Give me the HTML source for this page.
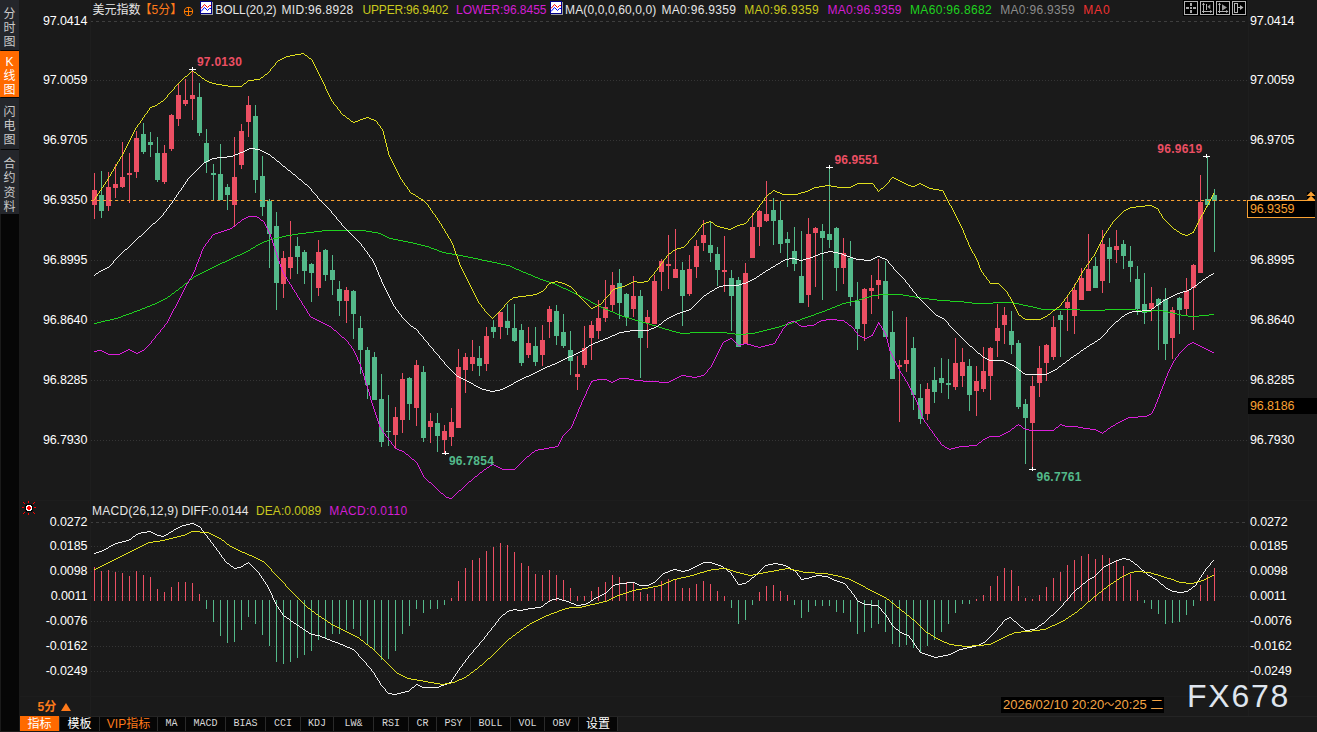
<!DOCTYPE html>
<html><head><meta charset="utf-8"><title>美元指数 5分</title>
<style>
html,body{margin:0;padding:0;background:#1a1a1a;}
body{width:1317px;height:732px;position:relative;overflow:hidden;font-family:"Liberation Sans","Noto Sans CJK SC",sans-serif;font-size:12px;color:#fff;}
.t{position:absolute;white-space:nowrap;line-height:14px;height:14px;}
.ax{position:absolute;white-space:nowrap;line-height:14px;height:14px;font-size:12.5px;letter-spacing:-0.12px;color:#fff;}
.l{left:30px;width:57.3px;text-align:right;}
.r{left:1250px;}
.b{font-weight:bold;}
svg{position:absolute;left:0;top:0;}
.side{position:absolute;left:1px;top:0;width:18px;height:731px;background:#060606;}
.tab{position:absolute;left:0;width:19px;background:#24262b;color:#c9c9c9;text-align:center;font-size:12px;line-height:14.3px;}
.bt{position:absolute;top:717px;height:14px;line-height:14px;background:#060606;color:#d8d8d8;text-align:center;font-family:"Liberation Mono","Noto Sans CJK SC",monospace;font-size:10px;white-space:nowrap;}
.bt.cj{font-family:"Liberation Sans","Noto Sans CJK SC",sans-serif;font-size:12px;color:#fff;}
</style></head><body>
<svg width="1317" height="732" viewBox="0 0 1317 732" shape-rendering="crispEdges"><path d="M90 21.5H1248" stroke="#3e3e3e" stroke-dasharray="3 3" fill="none"/>
<path d="M91 80.5H1248" stroke="#353535" stroke-dasharray="1 2" fill="none"/>
<path d="M91 140.5H1248" stroke="#353535" stroke-dasharray="1 2" fill="none"/>
<path d="M91 200.5H1248" stroke="#353535" stroke-dasharray="1 2" fill="none"/>
<path d="M91 260.5H1248" stroke="#353535" stroke-dasharray="1 2" fill="none"/>
<path d="M91 320.5H1248" stroke="#353535" stroke-dasharray="1 2" fill="none"/>
<path d="M91 380.5H1248" stroke="#353535" stroke-dasharray="1 2" fill="none"/>
<path d="M91 440.5H1248" stroke="#353535" stroke-dasharray="1 2" fill="none"/>
<path d="M90 522.5H1248" stroke="#3e3e3e" stroke-dasharray="3 3" fill="none"/>
<path d="M91 546.5H1248" stroke="#353535" stroke-dasharray="1 2" fill="none"/>
<path d="M91 571.5H1248" stroke="#353535" stroke-dasharray="1 2" fill="none"/>
<path d="M91 596.5H1248" stroke="#353535" stroke-dasharray="1 2" fill="none"/>
<path d="M91 621.5H1248" stroke="#353535" stroke-dasharray="1 2" fill="none"/>
<path d="M91 646.5H1248" stroke="#353535" stroke-dasharray="1 2" fill="none"/>
<path d="M91 671.5H1248" stroke="#353535" stroke-dasharray="1 2" fill="none"/>
<path d="M90.5 0V716 M1248.5 0V716" stroke="#1e1e1e" fill="none"/>
<path d="M20 500.5H1317 M20 696.5H1317" stroke="#1d1d1d" fill="none"/>
<path d="M20 716.5H1317" stroke="#242424" fill="none"/>
<rect x="94" y="173" width="1" height="46" fill="#ec4f63"/>
<rect x="92" y="190" width="5" height="15" fill="#ec4f63"/>
<rect x="101" y="171" width="1" height="47" fill="#53b98a"/>
<rect x="99" y="195" width="5" height="16" fill="#53b98a"/>
<rect x="108" y="172" width="1" height="39" fill="#ec4f63"/>
<rect x="106" y="187" width="5" height="19" fill="#ec4f63"/>
<rect x="115" y="164" width="1" height="34" fill="#ec4f63"/>
<rect x="113" y="184" width="5" height="4" fill="#ec4f63"/>
<rect x="122" y="142" width="1" height="46" fill="#ec4f63"/>
<rect x="120" y="177" width="5" height="10" fill="#ec4f63"/>
<rect x="129" y="153" width="1" height="50" fill="#ec4f63"/>
<rect x="127" y="173" width="5" height="2" fill="#ec4f63"/>
<rect x="136" y="131" width="1" height="47" fill="#ec4f63"/>
<rect x="134" y="138" width="5" height="34" fill="#ec4f63"/>
<rect x="143" y="123" width="1" height="31" fill="#53b98a"/>
<rect x="141" y="134" width="5" height="18" fill="#53b98a"/>
<rect x="150" y="132" width="1" height="25" fill="#53b98a"/>
<rect x="148" y="142" width="5" height="3" fill="#53b98a"/>
<rect x="157" y="137" width="1" height="45" fill="#53b98a"/>
<rect x="155" y="153" width="5" height="27" fill="#53b98a"/>
<rect x="164" y="145" width="1" height="39" fill="#ec4f63"/>
<rect x="162" y="153" width="5" height="29" fill="#ec4f63"/>
<rect x="171" y="114" width="1" height="37" fill="#ec4f63"/>
<rect x="169" y="115" width="5" height="34" fill="#ec4f63"/>
<rect x="178" y="84" width="1" height="42" fill="#ec4f63"/>
<rect x="176" y="95" width="5" height="24" fill="#ec4f63"/>
<rect x="185" y="79" width="1" height="27" fill="#ec4f63"/>
<rect x="183" y="100" width="5" height="4" fill="#ec4f63"/>
<rect x="192" y="70" width="1" height="50" fill="#ec4f63"/>
<rect x="190" y="95" width="5" height="4" fill="#ec4f63"/>
<rect x="199" y="83" width="1" height="53" fill="#53b98a"/>
<rect x="197" y="97" width="5" height="36" fill="#53b98a"/>
<rect x="206" y="129" width="1" height="44" fill="#53b98a"/>
<rect x="204" y="143" width="5" height="19" fill="#53b98a"/>
<rect x="213" y="164" width="1" height="36" fill="#53b98a"/>
<rect x="211" y="173" width="5" height="2" fill="#53b98a"/>
<rect x="220" y="144" width="1" height="56" fill="#53b98a"/>
<rect x="218" y="174" width="5" height="26" fill="#53b98a"/>
<rect x="227" y="184" width="1" height="26" fill="#53b98a"/>
<rect x="225" y="187" width="5" height="8" fill="#53b98a"/>
<rect x="234" y="137" width="1" height="90" fill="#ec4f63"/>
<rect x="232" y="177" width="5" height="28" fill="#ec4f63"/>
<rect x="241" y="124" width="1" height="45" fill="#ec4f63"/>
<rect x="239" y="131" width="5" height="34" fill="#ec4f63"/>
<rect x="248" y="96" width="1" height="41" fill="#ec4f63"/>
<rect x="246" y="105" width="5" height="17" fill="#ec4f63"/>
<rect x="255" y="105" width="1" height="88" fill="#53b98a"/>
<rect x="253" y="116" width="5" height="64" fill="#53b98a"/>
<rect x="262" y="156" width="1" height="60" fill="#53b98a"/>
<rect x="260" y="176" width="5" height="31" fill="#53b98a"/>
<rect x="269" y="199" width="1" height="69" fill="#53b98a"/>
<rect x="267" y="201" width="5" height="33" fill="#53b98a"/>
<rect x="276" y="212" width="1" height="98" fill="#53b98a"/>
<rect x="274" y="226" width="5" height="57" fill="#53b98a"/>
<rect x="283" y="251" width="1" height="47" fill="#ec4f63"/>
<rect x="281" y="258" width="5" height="26" fill="#ec4f63"/>
<rect x="290" y="221" width="1" height="58" fill="#ec4f63"/>
<rect x="288" y="257" width="5" height="11" fill="#ec4f63"/>
<rect x="297" y="237" width="1" height="37" fill="#53b98a"/>
<rect x="295" y="246" width="5" height="11" fill="#53b98a"/>
<rect x="304" y="250" width="1" height="34" fill="#53b98a"/>
<rect x="302" y="252" width="5" height="19" fill="#53b98a"/>
<rect x="311" y="263" width="1" height="39" fill="#53b98a"/>
<rect x="309" y="264" width="5" height="9" fill="#53b98a"/>
<rect x="318" y="240" width="1" height="56" fill="#ec4f63"/>
<rect x="316" y="252" width="5" height="36" fill="#ec4f63"/>
<rect x="325" y="249" width="1" height="32" fill="#53b98a"/>
<rect x="323" y="250" width="5" height="25" fill="#53b98a"/>
<rect x="332" y="255" width="1" height="40" fill="#53b98a"/>
<rect x="330" y="270" width="5" height="10" fill="#53b98a"/>
<rect x="339" y="281" width="1" height="35" fill="#53b98a"/>
<rect x="337" y="289" width="5" height="12" fill="#53b98a"/>
<rect x="346" y="287" width="1" height="36" fill="#ec4f63"/>
<rect x="344" y="290" width="5" height="11" fill="#ec4f63"/>
<rect x="353" y="290" width="1" height="49" fill="#53b98a"/>
<rect x="351" y="291" width="5" height="23" fill="#53b98a"/>
<rect x="360" y="316" width="1" height="58" fill="#53b98a"/>
<rect x="358" y="328" width="5" height="22" fill="#53b98a"/>
<rect x="367" y="347" width="1" height="52" fill="#53b98a"/>
<rect x="365" y="350" width="5" height="35" fill="#53b98a"/>
<rect x="374" y="352" width="1" height="48" fill="#53b98a"/>
<rect x="372" y="357" width="5" height="43" fill="#53b98a"/>
<rect x="381" y="374" width="1" height="73" fill="#53b98a"/>
<rect x="379" y="399" width="5" height="43" fill="#53b98a"/>
<rect x="388" y="395" width="1" height="51" fill="#53b98a"/>
<rect x="386" y="431" width="5" height="1" fill="#53b98a"/>
<rect x="395" y="407" width="1" height="42" fill="#ec4f63"/>
<rect x="393" y="417" width="5" height="18" fill="#ec4f63"/>
<rect x="402" y="373" width="1" height="60" fill="#ec4f63"/>
<rect x="400" y="379" width="5" height="41" fill="#ec4f63"/>
<rect x="409" y="377" width="1" height="43" fill="#53b98a"/>
<rect x="407" y="378" width="5" height="26" fill="#53b98a"/>
<rect x="416" y="360" width="1" height="66" fill="#ec4f63"/>
<rect x="414" y="365" width="5" height="43" fill="#ec4f63"/>
<rect x="423" y="366" width="1" height="76" fill="#53b98a"/>
<rect x="421" y="372" width="5" height="66" fill="#53b98a"/>
<rect x="430" y="413" width="1" height="30" fill="#ec4f63"/>
<rect x="428" y="421" width="5" height="6" fill="#ec4f63"/>
<rect x="437" y="413" width="1" height="39" fill="#53b98a"/>
<rect x="435" y="423" width="5" height="13" fill="#53b98a"/>
<rect x="444" y="425" width="1" height="28" fill="#ec4f63"/>
<rect x="442" y="431" width="5" height="9" fill="#ec4f63"/>
<rect x="451" y="408" width="1" height="38" fill="#ec4f63"/>
<rect x="449" y="422" width="5" height="15" fill="#ec4f63"/>
<rect x="458" y="349" width="1" height="79" fill="#ec4f63"/>
<rect x="456" y="367" width="5" height="61" fill="#ec4f63"/>
<rect x="465" y="353" width="1" height="40" fill="#ec4f63"/>
<rect x="463" y="357" width="5" height="13" fill="#ec4f63"/>
<rect x="472" y="340" width="1" height="31" fill="#ec4f63"/>
<rect x="470" y="357" width="5" height="7" fill="#ec4f63"/>
<rect x="479" y="346" width="1" height="30" fill="#53b98a"/>
<rect x="477" y="358" width="5" height="8" fill="#53b98a"/>
<rect x="486" y="327" width="1" height="44" fill="#ec4f63"/>
<rect x="484" y="336" width="5" height="28" fill="#ec4f63"/>
<rect x="493" y="320" width="1" height="18" fill="#53b98a"/>
<rect x="491" y="327" width="5" height="5" fill="#53b98a"/>
<rect x="500" y="312" width="1" height="27" fill="#ec4f63"/>
<rect x="498" y="312" width="5" height="15" fill="#ec4f63"/>
<rect x="507" y="304" width="1" height="31" fill="#53b98a"/>
<rect x="505" y="321" width="5" height="7" fill="#53b98a"/>
<rect x="514" y="304" width="1" height="38" fill="#53b98a"/>
<rect x="512" y="328" width="5" height="13" fill="#53b98a"/>
<rect x="521" y="324" width="1" height="42" fill="#53b98a"/>
<rect x="519" y="330" width="5" height="33" fill="#53b98a"/>
<rect x="528" y="327" width="1" height="31" fill="#ec4f63"/>
<rect x="526" y="343" width="5" height="12" fill="#ec4f63"/>
<rect x="535" y="327" width="1" height="39" fill="#53b98a"/>
<rect x="533" y="346" width="5" height="16" fill="#53b98a"/>
<rect x="542" y="325" width="1" height="41" fill="#ec4f63"/>
<rect x="540" y="340" width="5" height="15" fill="#ec4f63"/>
<rect x="549" y="306" width="1" height="32" fill="#ec4f63"/>
<rect x="547" y="309" width="5" height="13" fill="#ec4f63"/>
<rect x="556" y="305" width="1" height="40" fill="#53b98a"/>
<rect x="554" y="311" width="5" height="25" fill="#53b98a"/>
<rect x="563" y="314" width="1" height="34" fill="#53b98a"/>
<rect x="561" y="332" width="5" height="14" fill="#53b98a"/>
<rect x="570" y="331" width="1" height="44" fill="#53b98a"/>
<rect x="568" y="350" width="5" height="11" fill="#53b98a"/>
<rect x="577" y="356" width="1" height="34" fill="#ec4f63"/>
<rect x="575" y="374" width="5" height="3" fill="#ec4f63"/>
<rect x="584" y="326" width="1" height="42" fill="#ec4f63"/>
<rect x="582" y="348" width="5" height="17" fill="#ec4f63"/>
<rect x="591" y="321" width="1" height="39" fill="#ec4f63"/>
<rect x="589" y="325" width="5" height="13" fill="#ec4f63"/>
<rect x="598" y="300" width="1" height="39" fill="#ec4f63"/>
<rect x="596" y="318" width="5" height="13" fill="#ec4f63"/>
<rect x="605" y="280" width="1" height="42" fill="#ec4f63"/>
<rect x="603" y="307" width="5" height="11" fill="#ec4f63"/>
<rect x="612" y="272" width="1" height="39" fill="#ec4f63"/>
<rect x="610" y="285" width="5" height="20" fill="#ec4f63"/>
<rect x="619" y="269" width="1" height="50" fill="#53b98a"/>
<rect x="617" y="283" width="5" height="20" fill="#53b98a"/>
<rect x="626" y="293" width="1" height="33" fill="#53b98a"/>
<rect x="624" y="294" width="5" height="23" fill="#53b98a"/>
<rect x="633" y="276" width="1" height="41" fill="#ec4f63"/>
<rect x="631" y="296" width="5" height="13" fill="#ec4f63"/>
<rect x="640" y="290" width="1" height="88" fill="#53b98a"/>
<rect x="638" y="296" width="5" height="42" fill="#53b98a"/>
<rect x="647" y="310" width="1" height="38" fill="#ec4f63"/>
<rect x="645" y="317" width="5" height="6" fill="#ec4f63"/>
<rect x="654" y="275" width="1" height="49" fill="#ec4f63"/>
<rect x="652" y="281" width="5" height="43" fill="#ec4f63"/>
<rect x="661" y="259" width="1" height="32" fill="#ec4f63"/>
<rect x="659" y="261" width="5" height="11" fill="#ec4f63"/>
<rect x="668" y="235" width="1" height="54" fill="#ec4f63"/>
<rect x="666" y="264" width="5" height="2" fill="#ec4f63"/>
<rect x="675" y="229" width="1" height="49" fill="#ec4f63"/>
<rect x="673" y="269" width="5" height="9" fill="#ec4f63"/>
<rect x="682" y="262" width="1" height="64" fill="#53b98a"/>
<rect x="680" y="270" width="5" height="26" fill="#53b98a"/>
<rect x="689" y="255" width="1" height="41" fill="#ec4f63"/>
<rect x="687" y="269" width="5" height="25" fill="#ec4f63"/>
<rect x="696" y="240" width="1" height="38" fill="#ec4f63"/>
<rect x="694" y="246" width="5" height="21" fill="#ec4f63"/>
<rect x="703" y="220" width="1" height="31" fill="#ec4f63"/>
<rect x="701" y="235" width="5" height="8" fill="#ec4f63"/>
<rect x="710" y="222" width="1" height="40" fill="#53b98a"/>
<rect x="708" y="245" width="5" height="8" fill="#53b98a"/>
<rect x="717" y="247" width="1" height="39" fill="#53b98a"/>
<rect x="715" y="254" width="5" height="16" fill="#53b98a"/>
<rect x="724" y="236" width="1" height="56" fill="#ec4f63"/>
<rect x="722" y="270" width="5" height="2" fill="#ec4f63"/>
<rect x="731" y="270" width="1" height="61" fill="#53b98a"/>
<rect x="729" y="278" width="5" height="18" fill="#53b98a"/>
<rect x="738" y="277" width="1" height="70" fill="#53b98a"/>
<rect x="736" y="280" width="5" height="67" fill="#53b98a"/>
<rect x="745" y="263" width="1" height="81" fill="#ec4f63"/>
<rect x="743" y="273" width="5" height="71" fill="#ec4f63"/>
<rect x="752" y="213" width="1" height="45" fill="#ec4f63"/>
<rect x="750" y="227" width="5" height="31" fill="#ec4f63"/>
<rect x="759" y="210" width="1" height="36" fill="#ec4f63"/>
<rect x="757" y="211" width="5" height="16" fill="#ec4f63"/>
<rect x="766" y="181" width="1" height="41" fill="#ec4f63"/>
<rect x="764" y="214" width="5" height="7" fill="#ec4f63"/>
<rect x="773" y="198" width="1" height="47" fill="#53b98a"/>
<rect x="771" y="210" width="5" height="11" fill="#53b98a"/>
<rect x="780" y="201" width="1" height="52" fill="#53b98a"/>
<rect x="778" y="220" width="5" height="24" fill="#53b98a"/>
<rect x="787" y="232" width="1" height="35" fill="#53b98a"/>
<rect x="785" y="239" width="5" height="4" fill="#53b98a"/>
<rect x="794" y="227" width="1" height="44" fill="#53b98a"/>
<rect x="792" y="251" width="5" height="13" fill="#53b98a"/>
<rect x="801" y="231" width="1" height="72" fill="#53b98a"/>
<rect x="799" y="276" width="5" height="27" fill="#53b98a"/>
<rect x="808" y="218" width="1" height="89" fill="#ec4f63"/>
<rect x="806" y="234" width="5" height="61" fill="#ec4f63"/>
<rect x="815" y="227" width="1" height="60" fill="#ec4f63"/>
<rect x="813" y="228" width="5" height="5" fill="#ec4f63"/>
<rect x="822" y="224" width="1" height="76" fill="#53b98a"/>
<rect x="820" y="231" width="5" height="7" fill="#53b98a"/>
<rect x="829" y="168" width="1" height="80" fill="#53b98a"/>
<rect x="827" y="234" width="5" height="6" fill="#53b98a"/>
<rect x="836" y="227" width="1" height="64" fill="#53b98a"/>
<rect x="834" y="228" width="5" height="40" fill="#53b98a"/>
<rect x="843" y="238" width="1" height="46" fill="#ec4f63"/>
<rect x="841" y="253" width="5" height="15" fill="#ec4f63"/>
<rect x="850" y="241" width="1" height="65" fill="#53b98a"/>
<rect x="848" y="258" width="5" height="39" fill="#53b98a"/>
<rect x="857" y="282" width="1" height="68" fill="#53b98a"/>
<rect x="855" y="301" width="5" height="28" fill="#53b98a"/>
<rect x="864" y="288" width="1" height="53" fill="#ec4f63"/>
<rect x="862" y="289" width="5" height="35" fill="#ec4f63"/>
<rect x="871" y="275" width="1" height="39" fill="#ec4f63"/>
<rect x="869" y="288" width="5" height="3" fill="#ec4f63"/>
<rect x="878" y="259" width="1" height="40" fill="#ec4f63"/>
<rect x="876" y="280" width="5" height="5" fill="#ec4f63"/>
<rect x="885" y="261" width="1" height="76" fill="#53b98a"/>
<rect x="883" y="281" width="5" height="56" fill="#53b98a"/>
<rect x="892" y="311" width="1" height="68" fill="#53b98a"/>
<rect x="890" y="332" width="5" height="47" fill="#53b98a"/>
<rect x="899" y="360" width="1" height="62" fill="#ec4f63"/>
<rect x="897" y="365" width="5" height="2" fill="#ec4f63"/>
<rect x="906" y="317" width="1" height="55" fill="#ec4f63"/>
<rect x="904" y="360" width="5" height="4" fill="#ec4f63"/>
<rect x="913" y="337" width="1" height="73" fill="#53b98a"/>
<rect x="911" y="348" width="5" height="47" fill="#53b98a"/>
<rect x="920" y="384" width="1" height="40" fill="#53b98a"/>
<rect x="918" y="398" width="5" height="21" fill="#53b98a"/>
<rect x="927" y="383" width="1" height="37" fill="#ec4f63"/>
<rect x="925" y="389" width="5" height="25" fill="#ec4f63"/>
<rect x="934" y="367" width="1" height="36" fill="#53b98a"/>
<rect x="932" y="380" width="5" height="12" fill="#53b98a"/>
<rect x="941" y="358" width="1" height="35" fill="#53b98a"/>
<rect x="939" y="378" width="5" height="5" fill="#53b98a"/>
<rect x="948" y="359" width="1" height="40" fill="#53b98a"/>
<rect x="946" y="383" width="5" height="2" fill="#53b98a"/>
<rect x="955" y="338" width="1" height="52" fill="#ec4f63"/>
<rect x="953" y="363" width="5" height="24" fill="#ec4f63"/>
<rect x="962" y="348" width="1" height="39" fill="#ec4f63"/>
<rect x="960" y="362" width="5" height="14" fill="#ec4f63"/>
<rect x="969" y="359" width="1" height="52" fill="#53b98a"/>
<rect x="967" y="366" width="5" height="29" fill="#53b98a"/>
<rect x="976" y="366" width="1" height="50" fill="#ec4f63"/>
<rect x="974" y="381" width="5" height="10" fill="#ec4f63"/>
<rect x="983" y="347" width="1" height="45" fill="#ec4f63"/>
<rect x="981" y="371" width="5" height="18" fill="#ec4f63"/>
<rect x="990" y="347" width="1" height="53" fill="#ec4f63"/>
<rect x="988" y="348" width="5" height="28" fill="#ec4f63"/>
<rect x="997" y="304" width="1" height="53" fill="#ec4f63"/>
<rect x="995" y="328" width="5" height="13" fill="#ec4f63"/>
<rect x="1004" y="307" width="1" height="37" fill="#ec4f63"/>
<rect x="1002" y="315" width="5" height="10" fill="#ec4f63"/>
<rect x="1011" y="311" width="1" height="43" fill="#53b98a"/>
<rect x="1009" y="331" width="5" height="14" fill="#53b98a"/>
<rect x="1018" y="340" width="1" height="69" fill="#53b98a"/>
<rect x="1016" y="343" width="5" height="64" fill="#53b98a"/>
<rect x="1025" y="399" width="1" height="65" fill="#53b98a"/>
<rect x="1023" y="404" width="5" height="14" fill="#53b98a"/>
<rect x="1032" y="376" width="1" height="93" fill="#ec4f63"/>
<rect x="1030" y="386" width="5" height="37" fill="#ec4f63"/>
<rect x="1039" y="346" width="1" height="51" fill="#ec4f63"/>
<rect x="1037" y="368" width="5" height="15" fill="#ec4f63"/>
<rect x="1046" y="344" width="1" height="37" fill="#ec4f63"/>
<rect x="1044" y="345" width="5" height="18" fill="#ec4f63"/>
<rect x="1053" y="316" width="1" height="44" fill="#ec4f63"/>
<rect x="1051" y="327" width="5" height="30" fill="#ec4f63"/>
<rect x="1060" y="311" width="1" height="46" fill="#53b98a"/>
<rect x="1058" y="315" width="5" height="5" fill="#53b98a"/>
<rect x="1067" y="297" width="1" height="34" fill="#ec4f63"/>
<rect x="1065" y="302" width="5" height="6" fill="#ec4f63"/>
<rect x="1074" y="284" width="1" height="50" fill="#ec4f63"/>
<rect x="1072" y="290" width="5" height="26" fill="#ec4f63"/>
<rect x="1081" y="268" width="1" height="32" fill="#ec4f63"/>
<rect x="1079" y="278" width="5" height="22" fill="#ec4f63"/>
<rect x="1088" y="234" width="1" height="57" fill="#ec4f63"/>
<rect x="1086" y="269" width="5" height="22" fill="#ec4f63"/>
<rect x="1095" y="257" width="1" height="31" fill="#53b98a"/>
<rect x="1093" y="266" width="5" height="22" fill="#53b98a"/>
<rect x="1102" y="230" width="1" height="63" fill="#ec4f63"/>
<rect x="1100" y="244" width="5" height="37" fill="#ec4f63"/>
<rect x="1109" y="238" width="1" height="45" fill="#53b98a"/>
<rect x="1107" y="247" width="5" height="12" fill="#53b98a"/>
<rect x="1116" y="230" width="1" height="33" fill="#ec4f63"/>
<rect x="1114" y="246" width="5" height="4" fill="#ec4f63"/>
<rect x="1123" y="240" width="1" height="29" fill="#53b98a"/>
<rect x="1121" y="244" width="5" height="12" fill="#53b98a"/>
<rect x="1130" y="246" width="1" height="36" fill="#53b98a"/>
<rect x="1128" y="261" width="5" height="6" fill="#53b98a"/>
<rect x="1137" y="266" width="1" height="49" fill="#53b98a"/>
<rect x="1135" y="279" width="5" height="30" fill="#53b98a"/>
<rect x="1144" y="273" width="1" height="51" fill="#53b98a"/>
<rect x="1142" y="304" width="5" height="9" fill="#53b98a"/>
<rect x="1151" y="287" width="1" height="34" fill="#ec4f63"/>
<rect x="1149" y="303" width="5" height="6" fill="#ec4f63"/>
<rect x="1158" y="298" width="1" height="52" fill="#53b98a"/>
<rect x="1156" y="299" width="5" height="6" fill="#53b98a"/>
<rect x="1165" y="288" width="1" height="72" fill="#53b98a"/>
<rect x="1163" y="299" width="5" height="45" fill="#53b98a"/>
<rect x="1172" y="307" width="1" height="52" fill="#ec4f63"/>
<rect x="1170" y="310" width="5" height="28" fill="#ec4f63"/>
<rect x="1179" y="297" width="1" height="37" fill="#53b98a"/>
<rect x="1177" y="298" width="5" height="12" fill="#53b98a"/>
<rect x="1186" y="278" width="1" height="37" fill="#ec4f63"/>
<rect x="1184" y="291" width="5" height="18" fill="#ec4f63"/>
<rect x="1193" y="264" width="1" height="66" fill="#ec4f63"/>
<rect x="1191" y="265" width="5" height="23" fill="#ec4f63"/>
<rect x="1200" y="175" width="1" height="98" fill="#ec4f63"/>
<rect x="1198" y="202" width="5" height="71" fill="#ec4f63"/>
<rect x="1207" y="156" width="1" height="51" fill="#53b98a"/>
<rect x="1205" y="199" width="5" height="6" fill="#53b98a"/>
<rect x="1214" y="189" width="1" height="63" fill="#53b98a"/>
<rect x="1212" y="195" width="5" height="6" fill="#53b98a"/>
<path d="M91 200.5H1248" stroke="#f9a132" stroke-dasharray="3 3" fill="none"/>
<path d="M94 323.5h3m0 -1h4m0 -1h4m0 -1h5m0 -1h4m0 -1h4m0 -1h3m0 -1h2m0 -1h3m0 -1h3m0 -1h3m0 -1h2m0 -1h3m0 -1h3m0 -1h2m0 -1h3m0 -1h2m0 -1h3m0 -1h2m0 -1h3m0 -1h2m0 -1h2m0 -1h2m0 -1h2m0 -1h2m0 -1h2m0 -1h1m0 -1h2m0 -1h1m0 -1h1m0 -1h2m0 -1h1m0 -1h1m0 -1h2m0 -1h1m0 -1h1m0 -1h2m0 -1h1m0 -1h1m0 -1h1m0 -1h2m0 -1h1m0 -1h1m0 -1h1m0 -1h2m0 -1h1m0 -1h1m0 -1h2m0 -1h2m0 -1h2m0 -1h2m0 -1h2m0 -1h2m0 -1h2m0 -1h2m0 -1h2m0 -1h2m0 -1h2m0 -1h2m0 -1h2m0 -1h2m0 -1h3m0 -1h2m0 -1h2m0 -1h2m0 -1h2m0 -1h2m0 -1h2m0 -1h3m0 -1h2m0 -1h2m0 -1h2m0 -1h2m0 -1h2m0 -1h1m0 -1h2m0 -1h2m0 -1h1m0 -1h2m0 -1h2m0 -1h2m0 -1h2m0 -1h3m0 -1h2m0 -1h4m0 -1h5m0 -1h4m0 -1h4m0 -1h6m0 -1h6m0 -1h8m0 -1h8m0 -1h8m0 -1h44m0 1h6m0 1h6m0 1h3m0 1h2m0 1h2m0 1h2m0 1h2m0 1h4m0 1h5m0 1h5m0 1h5m0 1h5m0 1h4m0 1h4m0 1h4m0 1h4m0 1h2m0 1h3m0 1h3m0 1h2m0 1h3m0 1h4m0 1h6m0 1h6m0 1h5m0 1h5m0 1h5m0 1h5m0 1h4m0 1h5m0 1h5m0 1h5m0 1h4m0 1h5m0 1h4m0 1h2m0 1h2m0 1h2m0 1h3m0 1h2m0 1h2m0 1h3m0 1h2m0 1h3m0 1h2m0 1h2m0 1h3m0 1h2m0 1h3m0 1h3m0 1h3m0 1h3m0 1h3m0 1h2m0 1h2m0 1h2m0 1h2m0 1h3m0 1h2m0 1h2m0 1h2m0 1h2m0 1h2m0 1h2m0 1h2m0 1h2m0 1h2m0 1h2m0 1h2m0 1h2m0 1h1m0 1h2m0 1h2m0 1h2m0 1h2m0 1h2m0 1h2m0 1h2m0 1h3m0 1h2m0 1h3m0 1h2m0 1h2m0 1h3m0 1h2m0 1h3m0 1h4m0 1h3m0 1h3m0 1h4m0 1h3m0 1h4m0 1h3m0 1h3m0 1h4m0 1h3m0 1h3m0 1h3m0 1h4m0 1h3m0 1h4m0 1h4m0 1h10m0 -1h37m0 1h8m0 1h11m0 -1h9m0 -1h4m0 -1h4m0 -1h4m0 -1h4m0 -1h4m0 -1h4m0 -1h3m0 -1h3m0 -1h4m0 -1h3m0 -1h2m0 -1h3m0 -1h3m0 -1h2m0 -1h3m0 -1h3m0 -1h3m0 -1h3m0 -1h2m0 -1h3m0 -1h3m0 -1h3m0 -1h2m0 -1h3m0 -1h2m0 -1h3m0 -1h2m0 -1h3m0 -1h2m0 -1h4m0 -1h4m0 -1h5m0 -1h4m0 -1h3m0 -1h3m0 -1h4m0 -1h3m0 -1h7m0 -1h24m0 1h6m0 1h6m0 1h6m0 1h8m0 1h8m0 1h13m0 1h14m0 1h8m0 1h21m0 -1h21m0 1h5m0 1h4m0 1h5m0 1h5m0 1h4m0 1h4m0 1h39m0 1h25m0 -1h31m0 1h5m0 1h11m0 -1h11m0 1h5m0 1h5m0 1h4m0 1h4m0 1h7m0 1h11m0 -1h10m0 -1h5" fill="none" stroke="#1fd21f"/>
<path d="M94 351.5h3m0 -1h5m0 1h2m0 1h2m0 1h2m0 1h12m0 -1h2m0 -1h2m0 -1h2m0 -1h2m0 -1h2m0 1h2m0 1h2m0 1h2m0 1h2m0 -1h2m0 -1h2m0 -1h2m0 -1h1m0 -1h1m0 -1h1m0 -1h1m0 -1h1m0 -1h1m0 -1h1m0 -2h1m-1 1h1m0 -2h1m0 -1h1m0 -1h1m0 -2h1m-1 1h1m0 -2h1m0 -1h1m0 -1h1m0 -1h1m0 -2h1m-1 1h1m0 -2h1m0 -1h1m0 -1h1m0 -2h1m-1 1h1m0 -2h1m0 -1h1m0 -2h1m-1 1h1m0 -3h1m-1 1h1m0 -3h1m-1 1h1m0 -3h1m-1 1h1m0 -3h1m-1 1h1m0 -3h1m-1 1h1m0 -3h1m-1 1h1m0 -2h1m0 -2h1m-1 1h1m0 -3h1m-1 1h1m0 -3h1m-1 1h1m0 -3h1m-1 1h1m0 -3h1m-1 1h1m0 -3h1m-1 1h1m0 -3h1m-1 1h1m0 -3h1m-1 1h1m0 -3h1m-1 1h1m0 -3h1m-1 1h1m0 -3h1m-1 1h1m0 -3h1m-1 1h1m0 -2h1m0 -2h1m-1 1h1m0 -3h1m-1 1h1m0 -2h1m0 -2h1m-1 1h1m0 -3h1m-1 1h1m0 -3h1m-1 1h1m0 -3h1m-1 1h1m0 -4h1m-1 1h1m-1 1h1m0 -5h1m-1 1h1m-1 1h1m0 -4h1m-1 1h1m0 -4h1m-1 1h1m-1 1h1m0 -4h1m-1 1h1m0 -4h1m-1 1h1m-1 1h1m0 -5h1m-1 1h1m-1 1h1m0 -4h1m-1 1h1m0 -3h1m-1 1h1m0 -2h1m0 -2h1m-1 1h1m0 -2h1m0 -1h1m0 -2h1m-1 1h1m0 -2h1m0 -1h1m0 -2h1m-1 1h1m0 -2h1m0 -1h2m0 -1h3m0 -1h3m0 -1h3m0 -1h3m0 -1h3m0 -1h2m0 -1h1m0 -1h2m0 -1h1m0 -1h1m0 -1h1m0 -1h2m0 -1h1m0 -1h1m0 -1h2m0 -1h2m0 -1h2m0 -1h9m0 1h2m0 1h1m0 1h1m0 1h2m0 1h1m0 1h1m-1 1h1m0 1h1m-1 1h1m0 1h1m-1 1h1m0 1h1m-1 1h1m0 1h1m-1 1h1m0 1h1m-1 1h1m0 1h1m-1 1h1m-1 1h1m0 1h1m-1 1h1m-1 1h1m0 1h1m-1 1h1m-1 1h1m0 1h1m-1 1h1m-1 1h1m0 1h1m-1 1h1m-1 1h1m0 1h1m-1 1h1m-1 1h1m0 1h1m-1 1h1m-1 1h1m0 1h1m-1 1h1m-1 1h1m0 1h1m-1 1h1m-1 1h1m0 1h1m-1 1h1m-1 1h1m0 1h1m-1 1h1m-1 1h1m0 1h1m-1 1h1m-1 1h1m0 1h1m-1 1h1m0 1h1m-1 1h1m0 1h1m-1 1h1m0 1h1m0 1h1m-1 1h1m0 1h1m-1 1h1m0 1h1m0 1h1m-1 1h1m0 1h1m0 1h1m-1 1h1m0 1h1m-1 1h1m0 1h1m0 1h1m-1 1h1m0 1h1m0 1h1m-1 1h1m0 1h1m-1 1h1m0 1h1m0 1h1m-1 1h1m0 1h1m0 1h1m-1 1h1m0 1h1m-1 1h1m0 1h1m0 1h1m-1 1h1m0 1h1m0 1h1m-1 1h1m0 1h1m-1 1h1m0 1h1m0 1h1m-1 1h1m0 1h1m0 1h2m0 1h2m0 1h2m0 1h2m0 1h2m0 1h2m0 1h2m0 1h2m0 1h2m0 1h2m0 1h1m0 1h1m0 1h1m0 1h2m0 1h1m0 1h1m0 1h1m0 1h1m0 1h1m0 1h1m0 1h2m0 1h1m0 1h1m0 1h1m0 1h1m0 1h1m-1 1h1m0 1h1m0 1h1m0 1h1m-1 1h1m0 1h1m0 1h1m-1 1h1m0 1h1m-1 1h1m0 1h1m-1 1h1m0 1h1m-1 1h1m0 1h1m-1 1h1m-1 1h1m0 1h1m-1 1h1m0 1h1m-1 1h1m0 1h1m-1 1h1m-1 1h1m0 1h1m-1 1h1m-1 1h1m0 1h1m-1 1h1m-1 1h1m0 1h1m-1 1h1m-1 1h1m0 1h1m-1 1h1m-1 1h1m-1 1h1m0 1h1m-1 1h1m-1 1h1m0 1h1m-1 1h1m-1 1h1m0 1h1m-1 1h1m-1 1h1m0 1h1m-1 1h1m-1 1h1m0 1h1m-1 1h1m-1 1h1m-1 1h1m0 1h1m-1 1h1m-1 1h1m-1 1h1m0 1h1m-1 1h1m-1 1h1m0 1h1m-1 1h1m-1 1h1m0 1h1m-1 1h1m-1 1h1m0 1h1m-1 1h1m-1 1h1m0 1h1m-1 1h1m-1 1h1m0 1h1m-1 1h1m-1 1h1m0 1h1m-1 1h1m-1 1h1m0 1h1m-1 1h1m-1 1h1m0 1h1m-1 1h1m-1 1h1m0 1h1m-1 1h1m0 1h1m0 1h1m-1 1h1m0 1h1m0 1h1m0 1h1m-1 1h1m0 1h1m0 1h1m0 1h1m-1 1h1m0 1h1m0 1h1m0 1h1m-1 1h1m0 1h1m0 1h1m0 1h1m-1 1h1m0 1h2m0 1h2m0 1h3m0 1h2m0 1h1m0 1h1m0 1h2m0 1h1m0 1h1m0 1h1m0 1h1m0 1h2m0 1h1m0 1h1m0 1h1m0 1h1m-1 1h1m0 1h1m-1 1h1m0 1h1m-1 1h1m0 1h1m-1 1h1m0 1h1m-1 1h1m0 1h1m-1 1h1m0 1h1m-1 1h1m0 1h1m0 1h1m0 1h1m0 1h1m0 1h1m0 1h2m0 1h1m0 1h1m0 1h1m0 1h1m0 1h1m0 1h1m0 1h1m0 1h1m0 1h1m0 1h1m0 1h2m0 1h1m0 1h1m0 1h1m0 1h3m0 1h3m0 -1h1m0 -1h1m0 -1h1m0 -1h1m0 -1h1m0 -1h1m0 -1h1m0 -1h2m0 -1h1m0 -1h1m0 -1h1m0 -1h1m0 -1h1m0 -1h1m0 -1h1m0 -1h1m0 -1h2m0 -1h1m0 -1h1m0 -1h1m0 -1h1m0 -1h2m0 -1h1m0 -1h1m0 -1h1m0 -1h2m0 -1h1m0 -1h1m0 -1h2m0 -1h1m0 -1h2m0 -1h1m0 -1h2m0 -1h2m0 1h2m0 1h2m0 1h2m0 1h2m0 1h13m0 -1h1m0 -1h1m0 -1h1m0 -1h1m0 -1h1m0 -1h1m0 -1h1m0 -1h1m0 -1h1m0 -1h1m0 -1h1m0 -1h1m0 -1h2m0 -1h1m0 -1h1m0 -1h1m0 -1h2m0 -1h1m0 -1h3m0 -1h6m0 -1h5m0 -1h6m0 -1h3m0 -2h1m-1 1h1m0 -3h1m-1 1h1m0 -3h1m-1 1h1m0 -3h1m-1 1h1m0 -3h1m-1 1h1m0 -2h1m0 -1h1m0 -1h1m0 -1h1m0 -1h1m0 -1h1m0 -1h1m0 -1h1m0 -2h1m-1 1h1m0 -3h1m-1 1h1m0 -4h1m-1 1h1m-1 1h1m0 -4h1m-1 1h1m0 -3h1m-1 1h1m0 -4h1m-1 1h1m-1 1h1m0 -4h1m-1 1h1m0 -4h1m-1 1h1m-1 1h1m0 -4h1m-1 1h1m0 -3h1m-1 1h1m0 -4h1m-1 1h1m-1 1h1m0 -4h1m-1 1h1m0 -3h1m-1 1h1m0 -3h1m-1 1h1m0 -3h1m-1 1h1m0 -4h1m-1 1h1m-1 1h1m0 -4h1m-1 1h1m0 -3h1m-1 1h1m0 -3h1m-1 1h1m0 -3h1m-1 1h1m0 -3h2m-2 1h1m1 -2h4m0 -1h10m0 1h2m0 1h2m0 1h2m0 -1h2m0 -1h2m0 -1h2m0 -1h10m0 1h5m0 1h9m0 1h16m0 1h10m0 -1h2m0 -1h2m0 -1h2m0 -1h2m0 -1h2m0 -1h2m0 -1h5m0 1h6m0 1h5m0 -1h4m0 -1h3m0 -1h1m0 -1h1m0 -1h1m0 -2h1m-1 1h1m0 -2h1m0 -1h1m0 -1h1m0 -2h1m-1 1h1m0 -3h1m-1 1h1m0 -3h1m-1 1h1m0 -3h1m-1 1h1m0 -3h1m-1 1h1m0 -3h1m-1 1h1m0 -3h1m-1 1h1m0 -3h1m-1 1h1m0 -3h1m-1 1h1m0 -3h1m-1 1h1m0 -3h1m-1 1h1m0 -3h1m-1 1h1m0 -2h1m0 -1h2m0 -1h2m0 -1h2m0 -1h2m0 1h1m0 1h1m0 1h1m0 1h1m0 1h1m0 1h1m0 1h2m0 -1h4m0 -1h3m0 1h4m0 1h3m0 1h4m0 1h3m0 -1h4m0 -1h4m0 -1h4m0 -1h2m0 -2h1m-1 1h1m0 -3h1m-1 1h1m0 -2h1m0 -2h1m-1 1h1m0 -3h1m-1 1h1m0 -2h1m0 -2h1m-1 1h1m0 -3h1m-1 1h1m0 -2h1m0 -1h1m0 -1h1m0 -2h1m-1 1h1m0 -2h1m0 -1h3m0 -1h4m0 1h2m0 1h1m0 1h1m0 1h2m0 1h6m0 -1h7m0 -1h2m0 -1h1m0 -1h2m0 -1h2m0 -1h5m0 -1h11m0 1h7m0 1h1m0 1h2m0 1h1m0 1h1m0 1h2m0 1h1m0 1h1m0 1h1m0 1h1m-1 1h1m0 1h1m0 1h1m0 1h1m-1 1h1m0 1h2m0 1h2m0 1h2m0 1h3m0 -1h2m0 -1h2m0 -1h2m-1 -1h1m0 -2h1m-1 1h1m0 -3h1m-1 1h1m0 -3h1m-1 1h1m0 -3h1m-1 1h1m0 -3h1m-1 1h1m0 -3h1m-1 1h2m-1 1h1m0 1h1m0 1h1m-1 1h1m0 1h1m-1 1h1m0 1h1m0 1h1m-1 1h1m0 1h1m-1 1h1m0 1h1m-1 1h1m-1 1h1m-1 1h1m0 1h1m-1 1h1m-1 1h1m-1 1h1m0 1h1m-1 1h1m-1 1h1m-1 1h1m0 1h1m-1 1h1m-1 1h1m-1 1h1m0 1h1m-1 1h1m0 1h1m-1 1h1m0 1h1m-1 1h1m0 1h1m-1 1h1m0 1h1m-1 1h1m0 1h1m-1 1h1m0 1h1m-1 1h1m0 1h1m-1 1h1m0 1h1m-1 1h1m0 1h1m-1 1h1m0 1h1m-1 1h1m0 1h1m0 1h1m-1 1h1m0 1h1m0 1h1m-1 1h1m0 1h1m-1 1h1m0 1h1m0 1h1m-1 1h1m0 1h1m-1 1h1m0 1h1m-1 1h1m0 1h1m-1 1h1m0 1h1m-1 1h1m0 1h1m-1 1h1m0 1h1m-1 1h1m0 1h1m-1 1h1m0 1h1m-1 1h1m0 1h1m-1 1h1m0 1h1m-1 1h1m-1 1h1m0 1h1m-1 1h1m-1 1h1m0 1h1m-1 1h1m0 1h1m-1 1h1m-1 1h1m0 1h1m-1 1h1m-1 1h1m0 1h1m-1 1h1m0 1h1m-1 1h1m0 1h1m-1 1h1m0 1h1m0 1h1m0 1h1m-1 1h1m0 1h1m0 1h1m-1 1h1m0 1h1m0 1h1m0 1h1m-1 1h1m0 1h1m0 1h1m-1 1h1m0 1h1m0 1h1m0 1h1m-1 1h1m0 1h1m0 1h1m0 1h1m-1 1h1m0 1h1m0 1h2m0 1h1m0 1h2m0 1h2m0 1h2m0 -1h4m0 -1h4m0 -1h10m0 -1h8m0 -1h1m0 -1h1m0 -1h2m0 -1h1m0 -1h1m0 -1h2m0 -1h2m0 -1h2m0 -1h11m0 -1h2m0 -1h2m0 -1h2m0 -1h2m0 -1h2m0 -1h1m0 -1h1m0 -1h2m0 -1h1m0 -1h1m0 -1h2m0 -1h1m0 1h2m0 1h1m0 1h1m0 1h2m0 1h4m0 1h25m0 -1h1m0 -1h1m0 -1h2m0 -1h1m0 -1h1m0 -1h2m0 1h3m0 1h13m0 1h5m0 1h7m0 1h6m0 1h2m0 1h2m0 1h2m0 1h1m0 -1h1m0 -1h2m0 -1h1m0 -1h1m0 -1h2m0 -1h1m0 -1h2m0 -1h2m0 -1h1m0 -1h2m0 -1h2m0 -1h2m0 -1h2m0 -1h2m0 -1h2m0 -1h10m0 -1h9m0 -1h2m0 -1h2m0 -1h1m0 -2h1m-1 1h1m0 -3h1m-1 1h1m0 -3h1m-1 1h1m0 -4h1m-1 1h1m-1 1h1m0 -4h1m-1 1h1m0 -4h1m-1 1h1m-1 1h1m0 -4h1m-1 1h1m0 -4h1m-1 1h1m-1 1h1m0 -5h1m-1 1h1m-1 1h1m0 -4h1m-1 1h1m0 -4h1m-1 1h1m-1 1h1m0 -4h1m-1 1h1m0 -4h1m-1 1h1m-1 1h1m0 -5h1m-1 1h1m-1 1h1m0 -4h1m-1 1h1m0 -4h1m-1 1h1m-1 1h1m0 -4h1m-1 1h1m0 -3h1m-1 1h1m0 -3h1m-1 1h1m0 -3h1m-1 1h1m0 -3h1m-1 1h1m0 -3h1m-1 1h1m0 -2h1m0 -2h1m-1 1h1m0 -2h1m0 -1h1m0 -2h1m-1 1h1m0 -2h1m0 -1h1m0 -1h1m0 -1h1m0 -1h1m0 -1h1m0 -1h1m0 -1h1m0 -1h1m0 -1h2m0 -1h2m0 -1h2m0 1h2m0 1h2m0 1h2m0 1h2m0 1h2m0 1h2m0 1h2m0 1h2m0 1h2m0 1h2" fill="none" stroke="#dc1edc"/>
<path d="M94 275.5h1m0 -1h1m0 -1h2m0 -1h1m0 -1h2m0 -1h2m0 -1h2m0 -1h2m0 -1h2m0 -1h1m0 -1h1m0 -1h1m0 -1h1m0 -2h1m-1 1h1m0 -2h1m0 -1h1m0 -1h1m0 -1h1m0 -1h1m0 -1h1m0 -1h1m0 -1h1m0 -1h1m0 -1h1m0 -1h1m0 -1h2m0 -1h1m0 -1h1m0 -1h1m0 -1h1m0 -1h1m0 -1h1m0 -1h1m0 -1h1m0 -1h1m0 -1h1m0 -1h1m0 -1h1m0 -1h2m0 -1h1m0 -1h1m0 -1h1m0 -1h1m0 -1h1m0 -1h1m0 -1h1m0 -1h1m0 -1h1m0 -1h1m0 -1h1m0 -1h1m0 -1h2m0 -1h1m0 -1h1m0 -1h1m0 -1h1m0 -1h1m0 -1h1m0 -1h1m0 -1h1m0 -2h1m-1 1h1m0 -2h1m0 -1h1m0 -2h1m-1 1h1m0 -2h1m0 -1h1m0 -2h1m-1 1h1m0 -2h1m0 -1h1m0 -2h1m-1 1h1m0 -2h1m0 -2h1m-1 1h1m0 -2h1m0 -2h1m-1 1h1m0 -2h1m0 -2h1m-1 1h1m0 -2h1m0 -1h1m0 -2h1m-1 1h1m0 -2h1m0 -2h1m-1 1h1m0 -2h1m0 -2h1m-1 1h1m0 -2h1m0 -2h1m-1 1h1m0 -2h1m0 -1h1m0 -1h1m0 -1h1m0 -1h1m0 -1h1m0 -1h1m0 -1h1m0 -1h1m0 -1h1m0 -1h1m0 -1h1m0 -1h1m0 -1h1m0 -1h1m0 -1h1m0 -1h2m0 -1h2m0 -1h2m0 -1h2m0 -1h5m0 -1h10m0 -1h6m0 -1h2m0 -1h3m0 -1h2m0 -1h3m0 -1h2m0 -1h2m0 -1h2m0 -1h6m0 1h5m0 1h2m0 1h2m0 1h2m0 1h2m0 1h2m0 1h1m0 1h1m0 1h2m0 1h1m0 1h1m0 1h1m0 1h2m0 1h1m0 1h1m0 1h1m0 1h1m0 1h2m0 1h1m0 1h1m0 1h1m0 1h2m0 1h1m0 1h1m0 1h1m0 1h2m0 1h1m0 1h1m0 1h1m0 1h1m0 1h2m0 1h1m0 1h1m0 1h1m0 1h1m0 1h2m0 1h1m0 1h1m0 1h1m0 1h1m0 1h1m-1 1h1m0 1h1m0 1h1m0 1h1m0 1h1m0 1h1m0 1h1m-1 1h1m0 1h1m0 1h1m0 1h1m0 1h1m0 1h1m0 1h1m0 1h1m0 1h1m0 1h1m0 1h1m0 1h1m0 1h1m0 1h1m0 1h1m-1 1h1m0 1h1m0 1h1m0 1h1m0 1h1m0 1h1m-1 1h1m0 1h1m0 1h1m0 1h1m0 1h1m0 1h1m-1 1h1m0 1h1m0 1h1m0 1h1m0 1h1m0 1h1m0 1h1m0 1h1m0 1h1m0 1h1m0 1h1m0 1h1m0 1h1m0 1h1m0 1h1m0 1h1m0 1h1m0 1h1m0 1h1m0 1h1m0 1h1m-1 1h1m0 1h1m0 1h1m0 1h1m-1 1h1m0 1h1m0 1h1m0 1h1m-1 1h1m0 1h1m0 1h1m-1 1h1m0 1h1m0 1h1m0 1h1m-1 1h1m0 1h1m-1 1h1m0 1h1m-1 1h1m0 1h1m-1 1h1m0 1h1m-1 1h1m-1 1h1m0 1h1m-1 1h1m0 1h1m-1 1h1m-1 1h1m0 1h1m-1 1h1m0 1h1m-1 1h1m0 1h1m-1 1h1m-1 1h1m0 1h1m-1 1h1m0 1h1m-1 1h1m0 1h1m-1 1h1m0 1h1m-1 1h1m0 1h1m-1 1h1m0 1h1m-1 1h1m0 1h1m-1 1h1m0 1h1m-1 1h1m0 1h1m-1 1h1m0 1h1m-1 1h1m0 1h1m-1 1h1m0 1h1m-1 1h1m0 1h1m0 1h1m-1 1h1m0 1h1m0 1h1m0 1h1m-1 1h1m0 1h1m0 1h1m0 1h1m-1 1h1m0 1h1m0 1h1m0 1h1m0 1h1m0 1h1m0 1h1m0 1h1m0 1h1m0 1h1m0 1h2m0 1h1m0 1h2m0 1h1m0 1h1m0 1h1m-1 1h1m0 1h1m0 1h1m0 1h1m0 1h1m0 1h1m-1 1h1m0 1h1m0 1h1m0 1h1m0 1h1m0 1h1m-1 1h1m0 1h1m0 1h1m0 1h1m0 1h1m0 1h1m-1 1h1m0 1h1m0 1h1m0 1h1m0 1h1m0 1h1m0 1h1m-1 1h1m0 1h1m0 1h1m0 1h1m0 1h1m0 1h1m-1 1h1m0 1h1m0 1h1m0 1h1m0 1h1m0 1h1m0 1h1m0 1h1m0 1h1m0 1h1m0 1h1m0 1h1m0 1h1m0 1h2m0 1h2m0 1h2m0 1h2m0 1h2m0 1h2m0 1h2m0 1h2m0 1h1m0 1h2m0 1h2m0 1h2m0 1h2m0 1h4m0 1h4m0 1h5m0 -1h5m0 -1h3m0 -1h2m0 -1h2m0 -1h2m0 -1h2m0 -1h2m0 -1h1m0 -1h2m0 -1h2m0 -1h2m0 -1h2m0 -1h2m0 -1h2m0 -1h3m0 -1h2m0 -1h2m0 -1h2m0 -1h2m0 -1h2m0 -1h2m0 -1h2m0 -1h2m0 -1h2m0 -1h3m0 -1h2m0 -1h3m0 -1h2m0 -1h2m0 -1h2m0 -1h2m0 -1h2m0 -1h2m0 -1h2m0 -1h3m0 -1h2m0 -1h2m0 -1h2m0 -1h2m0 -1h2m0 -1h2m0 -1h1m0 -1h1m0 -1h2m0 -1h1m0 -1h2m0 -1h2m0 -1h2m0 -1h3m0 -1h2m0 -1h3m0 -1h2m0 -1h3m0 -1h2m0 -1h2m0 -1h3m0 -1h2m0 -1h2m0 -1h5m0 -1h6m0 -1h19m0 -1h2m0 -1h3m0 -1h2m0 -1h2m0 -1h1m0 -1h2m0 -1h1m0 -1h1m0 -1h1m0 -1h2m0 -1h1m0 -1h2m0 -1h2m0 -1h2m0 -1h2m0 -1h2m0 -1h3m0 -1h3m0 -1h3m0 -1h3m0 -1h2m0 -1h1m0 -1h1m0 -1h1m0 -1h1m0 -1h1m0 -1h1m0 -1h1m0 -1h1m0 -1h1m0 -1h1m0 -1h1m0 -1h1m0 -1h1m0 -1h2m0 -1h1m0 -1h2m0 -1h1m0 -1h2m0 -1h2m0 -1h1m0 -1h2m0 -1h2m0 -1h4m0 -1h16m0 -1h3m0 -1h4m0 -1h2m0 -1h2m0 -1h2m0 -1h2m0 -1h2m0 -1h1m0 -1h2m0 -1h1m0 -1h2m0 -1h1m0 -1h2m0 -1h1m0 -1h2m0 -1h2m0 -1h1m0 -1h2m0 -1h2m0 -1h1m0 -1h2m0 -1h2m0 -1h1m0 -1h2m0 -1h2m0 -1h4m0 -1h6m0 1h4m0 1h4m0 -1h3m0 -1h4m0 -1h3m0 -1h2m0 -1h3m0 -1h2m0 -1h4m0 -1h4m0 -1h5m0 1h5m0 1h4m0 1h2m0 1h3m0 1h3m0 1h3m0 1h3m0 1h8m0 1h7m0 -1h2m0 -1h2m0 -1h2m0 -1h3m0 1h2m0 1h3m0 1h2m0 1h1m0 1h1m-1 1h1m0 1h1m0 1h1m0 1h1m0 1h1m0 1h1m-1 1h1m0 1h1m0 1h1m0 1h1m0 1h1m0 1h1m0 1h1m0 1h1m0 1h1m0 1h1m0 1h1m0 1h1m0 1h1m-1 1h1m0 1h1m0 1h1m0 1h1m0 1h1m-1 1h1m0 1h1m0 1h1m0 1h1m-1 1h1m0 1h1m0 1h1m0 1h1m0 1h1m-1 1h1m0 1h1m0 1h1m0 1h1m0 1h1m0 1h1m0 1h1m0 1h1m0 1h1m0 1h1m0 1h1m0 1h1m0 1h1m0 1h1m0 1h1m0 1h1m0 1h1m0 1h1m0 1h1m0 1h1m0 1h2m0 1h2m0 1h2m0 1h2m0 1h1m0 1h1m0 1h1m0 1h1m0 1h1m-1 1h1m0 1h1m0 1h1m0 1h1m0 1h1m0 1h1m0 1h1m0 1h1m0 1h1m0 1h1m0 1h1m0 1h1m0 1h1m0 1h1m0 1h1m0 1h1m0 1h1m0 1h1m0 1h1m0 1h1m0 1h1m0 1h1m0 1h2m0 1h1m0 1h1m0 1h1m0 1h1m0 1h1m0 1h1m0 1h2m0 1h1m0 1h1m0 1h1m0 1h2m0 1h2m0 1h2m0 1h15m0 1h2m0 1h2m0 1h2m0 1h2m0 1h2m0 1h1m0 1h2m0 1h1m0 1h1m0 1h2m0 1h1m0 1h1m0 1h2m0 1h22m0 -1h2m0 -1h2m0 -1h2m0 -1h2m0 -1h2m0 -1h1m0 -1h1m0 -1h2m0 -1h1m0 -1h1m0 -1h2m0 -1h1m0 -1h1m0 -1h2m0 -1h1m0 -1h1m0 -1h2m0 -1h1m0 -1h2m0 -1h1m0 -1h2m0 -1h1m0 -1h1m0 -1h2m0 -1h1m0 -1h2m0 -1h1m0 -1h2m0 -1h1m0 -1h2m0 -1h2m0 -1h1m0 -1h2m0 -1h1m0 -1h2m0 -1h1m0 -1h1m0 -1h1m0 -1h1m0 -1h1m0 -1h1m0 -1h1m0 -2h1m-1 1h1m0 -2h1m0 -1h1m0 -1h1m0 -1h1m0 -1h1m0 -1h1m0 -1h1m0 -1h1m0 -1h2m0 -1h1m0 -1h1m0 -1h1m0 -1h1m0 -1h2m0 -1h1m0 -1h2m0 -1h2m0 -1h3m0 -1h10m0 -1h9m0 -1h1m0 -1h2m0 -1h1m0 -1h1m0 -1h2m0 -1h1m0 -1h1m0 -1h2m0 -1h1m0 -1h2m0 -1h2m0 -1h2m0 -1h2m0 -1h2m0 -1h2m0 -1h2m0 -1h3m0 -1h3m0 -1h4m0 -1h2m0 -1h2m0 -1h1m0 -1h2m0 -1h1m0 -1h2m0 -1h1m0 -1h1m0 -1h2m0 -1h1m0 -1h1m0 -1h2m0 -1h1m0 -1h2m0 -1h1m0 -1h2m0 -1h2m0 -1h1" fill="none" stroke="#f2f2f2"/>
<path d="M94 199.5h1m0 -2h1m-1 1h1m0 -2h1m0 -2h1m-1 1h1m0 -2h1m0 -2h1m-1 1h1m0 -2h1m0 -2h1m-1 1h1m0 -2h1m0 -2h1m-1 1h1m0 -2h1m0 -2h1m-1 1h1m0 -2h1m0 -2h1m-1 1h1m0 -3h1m-1 1h1m0 -2h1m0 -2h1m-1 1h1m0 -3h1m-1 1h1m0 -2h1m0 -2h1m-1 1h1m0 -3h1m-1 1h1m0 -2h1m0 -2h1m-1 1h1m0 -3h1m-1 1h1m0 -2h1m0 -2h1m-1 1h1m0 -3h1m-1 1h1m0 -2h1m0 -2h1m-1 1h1m0 -3h1m-1 1h1m0 -3h1m-1 1h1m0 -3h1m-1 1h1m0 -3h1m-1 1h1m0 -3h1m-1 1h1m0 -3h1m-1 1h1m0 -3h1m-1 1h1m0 -3h1m-1 1h1m0 -3h1m-1 1h1m0 -3h1m-1 1h1m0 -3h1m-1 1h1m0 -3h1m-1 1h1m0 -3h1m-1 1h1m0 -2h1m0 -2h1m-1 1h1m0 -2h1m0 -1h1m0 -2h1m-1 1h1m0 -2h1m0 -2h1m-1 1h1m0 -2h1m0 -2h1m-1 1h1m0 -2h1m0 -1h1m0 -2h1m-1 1h1m0 -2h1m0 -2h1m-1 1h1m0 -2h2m0 -1h3m0 -1h2m0 -1h1m0 -1h2m0 -1h1m0 -1h2m0 -1h1m0 -1h1m0 -1h1m0 -1h1m0 -2h1m-1 1h1m0 -2h1m0 -1h1m0 -1h1m0 -1h1m0 -1h1m0 -1h1m0 -2h1m-1 1h1m0 -2h1m0 -1h1m0 -1h1m0 -1h1m0 -1h1m0 -1h1m0 -1h1m0 -1h1m0 -1h1m0 -1h1m0 -1h2m0 -1h1m0 -1h1m0 -1h1m0 -1h1m0 -1h1m0 -1h1m0 1h1m0 1h2m0 1h1m0 1h1m0 1h2m0 1h1m0 1h1m0 1h2m0 1h1m0 1h2m0 1h2m0 1h3m0 1h4m0 1h6m0 1h6m0 1h14m0 -1h1m0 -1h1m0 -1h2m0 -1h1m0 -1h1m0 -1h6m0 -1h6m0 -1h1m0 -1h2m0 -1h1m0 -1h1m0 -1h2m0 -1h1m0 -1h1m0 -1h1m0 -2h1m-1 1h1m0 -2h1m0 -1h1m0 -1h1m0 -1h1m0 -2h1m-1 1h1m0 -2h1m0 -1h1m0 -1h2m0 -1h2m0 -1h2m0 -1h2m0 -1h4m0 -1h5m0 -1h6m0 -1h3m0 1h1m0 1h2m0 1h1m0 1h1m0 1h2m0 1h1m0 1h1m-1 1h1m0 1h1m-1 1h1m0 1h1m-1 1h1m0 1h1m-1 1h1m0 1h1m-1 1h1m0 1h1m-1 1h1m0 1h1m-1 1h1m0 1h1m-1 1h1m0 1h1m-1 1h1m0 1h1m-1 1h1m0 1h1m-1 1h1m0 1h1m-1 1h1m0 1h1m-1 1h1m0 1h1m-1 1h1m-1 1h1m0 1h1m-1 1h1m0 1h1m-1 1h1m0 1h1m-1 1h1m0 1h1m-1 1h1m0 1h1m-1 1h1m0 1h1m-1 1h1m0 1h1m0 1h1m-1 1h1m0 1h1m0 1h1m0 1h1m0 1h1m-1 1h1m0 1h1m0 1h1m0 1h1m-1 1h1m0 1h1m0 1h1m0 1h2m0 1h1m0 1h1m0 1h2m0 1h1m0 1h1m0 1h2m0 1h2m0 -1h3m0 -1h2m0 -1h3m0 -1h3m0 -1h3m0 1h2m0 1h3m0 1h2m0 1h1m0 1h1m-1 1h1m0 1h1m0 1h1m0 1h1m-1 1h1m0 1h1m0 1h1m-1 1h1m0 1h1m-1 1h1m-1 1h1m-1 1h1m0 1h1m-1 1h1m-1 1h1m-1 1h1m0 1h1m-1 1h1m-1 1h1m-1 1h1m0 1h1m-1 1h1m-1 1h1m-1 1h1m0 1h1m-1 1h1m-1 1h1m-1 1h1m0 1h1m-1 1h1m-1 1h1m-1 1h1m0 1h1m-1 1h1m0 1h1m-1 1h1m0 1h1m-1 1h1m0 1h1m-1 1h1m0 1h1m-1 1h1m0 1h1m-1 1h1m0 1h1m-1 1h1m0 1h1m-1 1h1m0 1h1m-1 1h1m0 1h1m-1 1h1m0 1h1m-1 1h1m0 1h1m-1 1h1m0 1h1m0 1h1m-1 1h1m0 1h1m0 1h1m-1 1h1m0 1h1m0 1h1m0 1h1m-1 1h1m0 1h1m0 1h1m-1 1h1m0 1h1m0 1h2m0 1h2m0 1h1m0 1h2m0 1h1m0 1h2m0 1h2m0 1h1m0 1h1m0 1h1m0 1h1m0 1h1m0 1h1m-1 1h1m0 1h1m0 1h1m-1 1h1m0 1h1m0 1h1m-1 1h1m0 1h1m0 1h1m0 1h1m-1 1h1m0 1h1m0 1h1m-1 1h1m0 1h1m0 1h1m-1 1h1m0 1h1m0 1h1m-1 1h1m0 1h1m-1 1h1m0 1h1m0 1h1m-1 1h1m0 1h1m-1 1h1m0 1h1m0 1h1m-1 1h1m0 1h1m-1 1h1m0 1h1m0 1h1m-1 1h1m0 1h1m-1 1h1m0 1h1m-1 1h1m0 1h1m-1 1h1m-1 1h1m0 1h1m-1 1h1m-1 1h1m0 1h1m-1 1h1m-1 1h1m0 1h1m-1 1h1m0 1h1m-1 1h1m-1 1h1m0 1h1m-1 1h1m-1 1h1m0 1h1m-1 1h1m-1 1h1m0 1h1m-1 1h1m0 1h1m-1 1h1m0 1h1m-1 1h1m0 1h1m-1 1h1m0 1h1m-1 1h1m0 1h1m-1 1h1m0 1h1m-1 1h1m0 1h1m-1 1h1m0 1h1m-1 1h1m0 1h1m-1 1h1m0 1h1m-1 1h1m0 1h1m-1 1h1m0 1h1m-1 1h1m0 1h1m-1 1h1m0 1h1m-1 1h1m0 1h1m-1 1h1m0 1h1m-1 1h1m0 1h1m-1 1h1m0 1h1m-1 1h1m0 1h1m0 1h1m0 1h1m-1 1h1m0 1h1m0 1h1m0 1h1m-1 1h1m0 1h1m0 1h1m0 1h1m0 1h1m0 1h1m0 1h1m0 1h1m0 1h1m0 -1h1m0 -1h1m0 -1h1m0 -1h1m0 -1h1m0 -1h1m0 -1h1m0 -1h1m0 -1h1m0 -1h1m0 -1h1m0 -2h1m-1 1h1m0 -2h1m0 -1h1m0 -1h1m0 -1h1m0 -1h1m0 -1h2m0 -1h1m0 -1h5m0 -1h8m0 -1h7m0 -1h4m0 -1h2m0 -1h2m0 -1h2m0 -1h1m0 -1h1m0 -1h1m0 -2h1m-1 1h1m0 -2h1m0 -1h1m0 -1h2m0 -1h4m0 -1h3m0 1h4m0 1h3m0 1h2m0 1h2m0 1h2m0 1h1m0 1h1m0 1h1m0 1h1m0 1h1m0 1h1m-1 1h1m0 1h1m0 1h1m0 1h1m0 1h1m0 1h1m0 1h1m0 1h1m0 1h1m0 1h1m0 1h1m0 1h1m0 1h1m0 1h1m0 1h1m0 1h2m0 -1h2m0 -1h2m0 -1h2m0 -1h2m0 -1h1m0 -1h1m0 -2h1m-1 1h1m0 -2h1m0 -1h1m0 -1h1m0 -1h1m0 -1h1m0 -1h1m0 -2h1m-1 1h1m0 -2h1m0 -1h1m0 -1h2m0 -1h3m0 -1h4m0 -1h3m0 -1h2m0 -1h2m0 -1h2m0 -1h2m0 -1h4m0 1h7m0 -1h4m0 -1h1m0 -2h1m-1 1h1m0 -2h1m0 -1h1m0 -1h1m0 -1h1m0 -2h1m-1 1h1m0 -2h1m0 -1h1m0 -2h1m-1 1h1m0 -2h1m0 -1h1m0 -2h1m-1 1h1m0 -2h1m0 -1h1m0 -2h1m-1 1h1m0 -2h1m0 -1h1m0 -2h1m-1 1h1m0 -2h1m0 -1h1m0 -1h2m0 -1h1m0 -1h1m0 -1h2m0 -1h2m0 -1h4m0 -1h3m0 -1h1m0 -1h1m0 -1h1m0 -1h1m0 -2h1m-1 1h1m0 -2h1m0 -1h1m0 -1h1m0 -1h1m0 -1h1m0 -1h1m0 -2h1m-1 1h1m0 -2h1m0 -1h1m0 -2h1m-1 1h1m0 -2h1m0 -1h1m0 -2h1m-1 1h1m0 -2h2m0 -1h2m0 -1h3m0 -1h2m0 1h2m0 1h1m0 1h1m0 1h2m0 1h3m0 1h4m0 1h4m0 1h3m0 -1h2m0 -1h2m0 -1h2m0 -1h3m0 -1h4m0 -1h2m0 -1h1m0 -1h1m0 -2h1m-1 1h1m0 -2h1m0 -1h1m0 -1h1m0 -1h1m0 -2h1m-1 1h1m0 -2h1m0 -1h1m0 -1h1m0 -2h1m-1 1h1m0 -2h1m0 -2h1m-1 1h1m0 -2h1m0 -1h1m0 -2h1m-1 1h1m0 -2h1m0 -2h1m-1 1h1m0 -2h1m0 -1h1m0 -1h1m0 -1h1m0 -1h2m0 -1h1m0 -1h1m0 -1h2m0 1h2m0 1h3m0 1h2m0 1h16m0 -1h3m0 -1h4m0 -1h3m0 -1h2m0 -1h2m0 -1h2m0 -1h5m0 -1h6m0 -1h6m0 1h6m0 1h14m0 -1h2m0 -1h2m0 -1h2m0 -1h16m0 1h1m0 1h1m-1 1h1m0 1h1m0 1h1m0 1h1m-1 1h1m0 1h1m0 -1h1m0 -1h1m0 -1h2m0 -1h1m0 -1h1m0 -1h1m0 -1h1m0 -1h1m0 -1h1m0 -2h1m-1 1h1m0 -2h1m0 -1h1m0 -1h2m0 1h2m0 1h2m0 1h2m0 1h2m0 1h2m0 1h2m0 1h2m0 1h3m0 1h4m0 -1h2m0 -1h2m0 -1h2m0 1h2m0 1h2m0 1h2m0 1h2m0 1h4m0 1h6m0 1h4m0 1h1m-1 1h1m0 1h1m-1 1h1m0 1h1m-1 1h1m0 1h1m-1 1h1m0 1h1m-1 1h1m0 1h1m-1 1h1m0 1h1m-1 1h1m0 1h1m0 1h1m-1 1h1m0 1h1m-1 1h1m0 1h1m-1 1h1m0 1h1m-1 1h1m0 1h1m-1 1h1m0 1h1m-1 1h1m0 1h1m-1 1h1m0 1h1m-1 1h1m0 1h1m-1 1h1m0 1h1m-1 1h1m0 1h1m-1 1h1m0 1h1m-1 1h1m0 1h1m-1 1h1m-1 1h1m0 1h1m-1 1h1m0 1h1m-1 1h1m-1 1h1m0 1h1m-1 1h1m0 1h1m-1 1h1m0 1h1m-1 1h1m-1 1h1m0 1h1m-1 1h1m0 1h1m-1 1h1m0 1h1m-1 1h1m0 1h1m-1 1h1m0 1h1m0 1h1m-1 1h1m0 1h1m-1 1h1m0 1h1m-1 1h1m0 1h1m-1 1h1m0 1h1m-1 1h1m-1 1h1m0 1h1m-1 1h1m-1 1h1m0 1h1m-1 1h1m0 1h1m-1 1h1m0 1h1m0 1h1m-1 1h1m0 1h1m0 1h1m0 1h1m-1 1h1m0 1h1m0 1h1m0 1h1m-1 1h1m0 1h9m0 1h1m0 1h1m0 1h1m0 1h1m0 1h1m0 1h1m0 1h1m0 1h1m0 1h1m-1 1h1m0 1h1m-1 1h1m0 1h1m0 1h1m-1 1h1m0 1h1m-1 1h1m0 1h1m-1 1h1m0 1h1m-1 1h1m0 1h1m-1 1h1m0 1h1m-1 1h1m0 1h1m-1 1h1m0 1h1m-1 1h1m0 1h1m-1 1h1m0 1h2m0 1h1m0 1h1m0 1h2m0 1h16m0 -1h2m0 -1h2m0 -1h2m0 -1h1m0 -1h2m0 -1h1m0 -1h1m0 -1h1m0 -1h2m0 -1h1m0 -1h1m0 -1h2m0 -1h1m0 -1h1m0 -2h1m-1 1h1m0 -2h1m0 -1h1m0 -2h1m-1 1h1m0 -2h1m0 -1h1m0 -2h1m-1 1h1m0 -2h1m0 -2h1m-1 1h1m0 -2h1m0 -1h1m0 -2h1m-1 1h1m0 -2h1m0 -2h1m-1 1h1m0 -3h1m-1 1h1m0 -2h1m0 -2h1m-1 1h1m0 -3h1m-1 1h1m0 -3h1m-1 1h1m0 -2h1m0 -2h1m-1 1h1m0 -3h1m-1 1h1m0 -2h1m0 -2h1m-1 1h1m0 -2h1m0 -2h1m-1 1h1m0 -2h1m0 -1h1m0 -2h1m-1 1h1m0 -2h1m0 -2h1m-1 1h1m0 -2h1m0 -1h1m0 -2h1m-1 1h1m0 -3h1m-1 1h1m0 -3h1m-1 1h1m0 -3h1m-1 1h1m0 -3h1m-1 1h1m0 -3h1m-1 1h1m0 -3h1m-1 1h1m0 -3h1m-1 1h1m0 -3h1m-1 1h1m0 -3h1m-1 1h1m0 -3h1m-1 1h1m0 -2h1m0 -2h1m-1 1h1m0 -2h1m0 -2h1m-1 1h1m0 -2h1m0 -2h1m-1 1h1m0 -2h1m0 -2h1m-1 1h1m0 -2h1m0 -1h1m0 -1h1m0 -1h1m0 -1h1m0 -1h1m0 -1h1m0 -1h1m0 -1h1m0 -1h1m0 -1h1m0 -1h2m0 -1h2m0 -1h2m0 -1h6m0 -1h9m0 -1h7m0 1h2m0 1h2m0 1h2m0 1h1m-1 1h1m0 1h1m-1 1h1m0 1h1m0 1h1m-1 1h1m0 1h1m-1 1h1m0 1h1m0 1h1m0 1h1m0 1h1m0 1h1m0 1h1m0 1h1m0 1h1m0 1h1m0 1h1m0 1h1m0 1h2m0 1h1m0 1h2m0 1h1m0 1h2m0 1h3m0 1h3m0 -1h2m0 -1h2m0 -1h2m-1 -1h1m0 -2h1m-1 1h1m0 -3h1m-1 1h1m0 -3h1m-1 1h1m0 -3h1m-1 1h1m0 -3h1m-1 1h1m0 -3h1m-1 1h1m0 -3h1m-1 1h1m0 -3h1m-1 1h1m0 -2h1m0 -2h1m-1 1h1m0 -3h1m-1 1h1m0 -3h1m-1 1h1m0 -3h1m-1 1h1m0 -2h1m0 -2h1m-1 1h1m0 -3h1m-1 1h1m0 -3h1m-1 1h1m0 -3h1m-1 1h1m0 -3h1m-1 1h1m0 -3h1m-1 1h1" fill="none" stroke="#e0e01e"/>
<rect x="94" y="567" width="1" height="34" fill="#ec4f63"/>
<rect x="101" y="571" width="1" height="30" fill="#ec4f63"/>
<rect x="108" y="570" width="1" height="31" fill="#ec4f63"/>
<rect x="115" y="572" width="1" height="29" fill="#ec4f63"/>
<rect x="122" y="573" width="1" height="28" fill="#ec4f63"/>
<rect x="129" y="576" width="1" height="25" fill="#ec4f63"/>
<rect x="136" y="571" width="1" height="30" fill="#ec4f63"/>
<rect x="143" y="575" width="1" height="26" fill="#ec4f63"/>
<rect x="150" y="577" width="1" height="24" fill="#ec4f63"/>
<rect x="157" y="589" width="1" height="12" fill="#ec4f63"/>
<rect x="164" y="592" width="1" height="9" fill="#ec4f63"/>
<rect x="171" y="587" width="1" height="14" fill="#ec4f63"/>
<rect x="178" y="582" width="1" height="19" fill="#ec4f63"/>
<rect x="185" y="582" width="1" height="19" fill="#ec4f63"/>
<rect x="192" y="583" width="1" height="18" fill="#ec4f63"/>
<rect x="199" y="594" width="1" height="7" fill="#ec4f63"/>
<rect x="206" y="600" width="1" height="9" fill="#53b98a"/>
<rect x="213" y="600" width="1" height="22" fill="#53b98a"/>
<rect x="220" y="600" width="1" height="36" fill="#53b98a"/>
<rect x="227" y="600" width="1" height="43" fill="#53b98a"/>
<rect x="234" y="600" width="1" height="42" fill="#53b98a"/>
<rect x="241" y="600" width="1" height="30" fill="#53b98a"/>
<rect x="248" y="600" width="1" height="17" fill="#53b98a"/>
<rect x="255" y="600" width="1" height="24" fill="#53b98a"/>
<rect x="262" y="600" width="1" height="35" fill="#53b98a"/>
<rect x="269" y="600" width="1" height="46" fill="#53b98a"/>
<rect x="276" y="600" width="1" height="62" fill="#53b98a"/>
<rect x="283" y="600" width="1" height="64" fill="#53b98a"/>
<rect x="290" y="600" width="1" height="62" fill="#53b98a"/>
<rect x="297" y="600" width="1" height="58" fill="#53b98a"/>
<rect x="304" y="600" width="1" height="55" fill="#53b98a"/>
<rect x="311" y="600" width="1" height="51" fill="#53b98a"/>
<rect x="318" y="600" width="1" height="40" fill="#53b98a"/>
<rect x="325" y="600" width="1" height="38" fill="#53b98a"/>
<rect x="332" y="600" width="1" height="34" fill="#53b98a"/>
<rect x="339" y="600" width="1" height="34" fill="#53b98a"/>
<rect x="346" y="600" width="1" height="30" fill="#53b98a"/>
<rect x="353" y="600" width="1" height="29" fill="#53b98a"/>
<rect x="360" y="600" width="1" height="36" fill="#53b98a"/>
<rect x="367" y="600" width="1" height="44" fill="#53b98a"/>
<rect x="374" y="600" width="1" height="51" fill="#53b98a"/>
<rect x="381" y="600" width="1" height="60" fill="#53b98a"/>
<rect x="388" y="600" width="1" height="59" fill="#53b98a"/>
<rect x="395" y="600" width="1" height="51" fill="#53b98a"/>
<rect x="402" y="600" width="1" height="34" fill="#53b98a"/>
<rect x="409" y="600" width="1" height="26" fill="#53b98a"/>
<rect x="416" y="600" width="1" height="9" fill="#53b98a"/>
<rect x="423" y="600" width="1" height="13" fill="#53b98a"/>
<rect x="430" y="600" width="1" height="9" fill="#53b98a"/>
<rect x="437" y="600" width="1" height="9" fill="#53b98a"/>
<rect x="444" y="600" width="1" height="5" fill="#53b98a"/>
<rect x="451" y="598" width="1" height="3" fill="#ec4f63"/>
<rect x="458" y="581" width="1" height="20" fill="#ec4f63"/>
<rect x="465" y="568" width="1" height="33" fill="#ec4f63"/>
<rect x="472" y="560" width="1" height="41" fill="#ec4f63"/>
<rect x="479" y="558" width="1" height="43" fill="#ec4f63"/>
<rect x="486" y="551" width="1" height="50" fill="#ec4f63"/>
<rect x="493" y="547" width="1" height="54" fill="#ec4f63"/>
<rect x="500" y="543" width="1" height="58" fill="#ec4f63"/>
<rect x="507" y="545" width="1" height="56" fill="#ec4f63"/>
<rect x="514" y="552" width="1" height="49" fill="#ec4f63"/>
<rect x="521" y="563" width="1" height="38" fill="#ec4f63"/>
<rect x="528" y="566" width="1" height="35" fill="#ec4f63"/>
<rect x="535" y="574" width="1" height="27" fill="#ec4f63"/>
<rect x="542" y="575" width="1" height="26" fill="#ec4f63"/>
<rect x="549" y="570" width="1" height="31" fill="#ec4f63"/>
<rect x="556" y="575" width="1" height="26" fill="#ec4f63"/>
<rect x="563" y="580" width="1" height="21" fill="#ec4f63"/>
<rect x="570" y="588" width="1" height="13" fill="#ec4f63"/>
<rect x="577" y="596" width="1" height="5" fill="#ec4f63"/>
<rect x="584" y="596" width="1" height="5" fill="#ec4f63"/>
<rect x="591" y="591" width="1" height="10" fill="#ec4f63"/>
<rect x="598" y="587" width="1" height="14" fill="#ec4f63"/>
<rect x="605" y="582" width="1" height="19" fill="#ec4f63"/>
<rect x="612" y="575" width="1" height="26" fill="#ec4f63"/>
<rect x="619" y="577" width="1" height="24" fill="#ec4f63"/>
<rect x="626" y="582" width="1" height="19" fill="#ec4f63"/>
<rect x="633" y="582" width="1" height="19" fill="#ec4f63"/>
<rect x="640" y="592" width="1" height="9" fill="#ec4f63"/>
<rect x="647" y="594" width="1" height="7" fill="#ec4f63"/>
<rect x="654" y="588" width="1" height="13" fill="#ec4f63"/>
<rect x="661" y="581" width="1" height="20" fill="#ec4f63"/>
<rect x="668" y="579" width="1" height="22" fill="#ec4f63"/>
<rect x="675" y="579" width="1" height="22" fill="#ec4f63"/>
<rect x="682" y="588" width="1" height="13" fill="#ec4f63"/>
<rect x="689" y="588" width="1" height="13" fill="#ec4f63"/>
<rect x="696" y="584" width="1" height="17" fill="#ec4f63"/>
<rect x="703" y="581" width="1" height="20" fill="#ec4f63"/>
<rect x="710" y="584" width="1" height="17" fill="#ec4f63"/>
<rect x="717" y="591" width="1" height="10" fill="#ec4f63"/>
<rect x="724" y="596" width="1" height="5" fill="#ec4f63"/>
<rect x="731" y="600" width="1" height="8" fill="#53b98a"/>
<rect x="738" y="600" width="1" height="24" fill="#53b98a"/>
<rect x="745" y="600" width="1" height="20" fill="#53b98a"/>
<rect x="752" y="600" width="1" height="5" fill="#53b98a"/>
<rect x="759" y="592" width="1" height="9" fill="#ec4f63"/>
<rect x="766" y="586" width="1" height="15" fill="#ec4f63"/>
<rect x="773" y="585" width="1" height="16" fill="#ec4f63"/>
<rect x="780" y="591" width="1" height="10" fill="#ec4f63"/>
<rect x="787" y="595" width="1" height="6" fill="#ec4f63"/>
<rect x="794" y="600" width="1" height="5" fill="#53b98a"/>
<rect x="801" y="600" width="1" height="18" fill="#53b98a"/>
<rect x="808" y="600" width="1" height="12" fill="#53b98a"/>
<rect x="815" y="600" width="1" height="6" fill="#53b98a"/>
<rect x="822" y="600" width="1" height="6" fill="#53b98a"/>
<rect x="829" y="600" width="1" height="6" fill="#53b98a"/>
<rect x="836" y="600" width="1" height="12" fill="#53b98a"/>
<rect x="843" y="600" width="1" height="13" fill="#53b98a"/>
<rect x="850" y="600" width="1" height="22" fill="#53b98a"/>
<rect x="857" y="600" width="1" height="34" fill="#53b98a"/>
<rect x="864" y="600" width="1" height="32" fill="#53b98a"/>
<rect x="871" y="600" width="1" height="28" fill="#53b98a"/>
<rect x="878" y="600" width="1" height="24" fill="#53b98a"/>
<rect x="885" y="600" width="1" height="32" fill="#53b98a"/>
<rect x="892" y="600" width="1" height="44" fill="#53b98a"/>
<rect x="899" y="600" width="1" height="47" fill="#53b98a"/>
<rect x="906" y="600" width="1" height="45" fill="#53b98a"/>
<rect x="913" y="600" width="1" height="48" fill="#53b98a"/>
<rect x="920" y="600" width="1" height="53" fill="#53b98a"/>
<rect x="927" y="600" width="1" height="46" fill="#53b98a"/>
<rect x="934" y="600" width="1" height="40" fill="#53b98a"/>
<rect x="941" y="600" width="1" height="32" fill="#53b98a"/>
<rect x="948" y="600" width="1" height="24" fill="#53b98a"/>
<rect x="955" y="600" width="1" height="13" fill="#53b98a"/>
<rect x="962" y="600" width="1" height="4" fill="#53b98a"/>
<rect x="969" y="600" width="1" height="4" fill="#53b98a"/>
<rect x="976" y="599" width="1" height="2" fill="#ec4f63"/>
<rect x="983" y="595" width="1" height="6" fill="#ec4f63"/>
<rect x="990" y="586" width="1" height="15" fill="#ec4f63"/>
<rect x="997" y="576" width="1" height="25" fill="#ec4f63"/>
<rect x="1004" y="568" width="1" height="33" fill="#ec4f63"/>
<rect x="1011" y="570" width="1" height="31" fill="#ec4f63"/>
<rect x="1018" y="586" width="1" height="15" fill="#ec4f63"/>
<rect x="1025" y="598" width="1" height="3" fill="#ec4f63"/>
<rect x="1032" y="599" width="1" height="2" fill="#ec4f63"/>
<rect x="1039" y="595" width="1" height="6" fill="#ec4f63"/>
<rect x="1046" y="587" width="1" height="14" fill="#ec4f63"/>
<rect x="1053" y="578" width="1" height="23" fill="#ec4f63"/>
<rect x="1060" y="572" width="1" height="29" fill="#ec4f63"/>
<rect x="1067" y="565" width="1" height="36" fill="#ec4f63"/>
<rect x="1074" y="560" width="1" height="41" fill="#ec4f63"/>
<rect x="1081" y="556" width="1" height="45" fill="#ec4f63"/>
<rect x="1088" y="554" width="1" height="47" fill="#ec4f63"/>
<rect x="1095" y="559" width="1" height="42" fill="#ec4f63"/>
<rect x="1102" y="555" width="1" height="46" fill="#ec4f63"/>
<rect x="1109" y="558" width="1" height="43" fill="#ec4f63"/>
<rect x="1116" y="560" width="1" height="41" fill="#ec4f63"/>
<rect x="1123" y="566" width="1" height="35" fill="#ec4f63"/>
<rect x="1130" y="574" width="1" height="27" fill="#ec4f63"/>
<rect x="1137" y="590" width="1" height="11" fill="#ec4f63"/>
<rect x="1144" y="600" width="1" height="3" fill="#53b98a"/>
<rect x="1151" y="600" width="1" height="9" fill="#53b98a"/>
<rect x="1158" y="600" width="1" height="14" fill="#53b98a"/>
<rect x="1165" y="600" width="1" height="24" fill="#53b98a"/>
<rect x="1172" y="600" width="1" height="23" fill="#53b98a"/>
<rect x="1179" y="600" width="1" height="22" fill="#53b98a"/>
<rect x="1186" y="600" width="1" height="15" fill="#53b98a"/>
<rect x="1193" y="600" width="1" height="6" fill="#53b98a"/>
<rect x="1200" y="585" width="1" height="16" fill="#ec4f63"/>
<rect x="1207" y="575" width="1" height="26" fill="#ec4f63"/>
<rect x="1214" y="568" width="1" height="33" fill="#ec4f63"/>
<path d="M94 553.5h2m0 -1h3m0 -1h3m0 -1h2m0 -1h2m0 -1h2m0 -1h1m0 -1h2m0 -1h2m0 -1h2m0 -1h3m0 -1h4m0 -1h4m0 -1h3m0 -1h2m0 -1h1m0 -1h1m0 -1h2m0 -1h1m0 -1h2m0 -1h3m0 -1h6m0 -1h4m0 1h2m0 1h2m0 1h2m0 1h4m0 1h3m0 -1h2m0 -1h2m0 -1h1m0 -1h2m0 -1h2m0 -1h1m0 -1h2m0 -1h2m0 -1h2m0 -1h2m0 -1h4m0 -1h4m0 -1h4m0 1h2m0 1h2m0 1h2m0 1h1m0 1h1m-1 1h1m0 1h1m0 1h1m0 1h1m-1 1h1m0 1h1m0 1h1m0 1h1m-1 1h1m0 1h1m0 1h1m0 1h1m-1 1h1m0 1h1m0 1h1m0 1h1m-1 1h1m0 1h1m0 1h1m0 1h1m-1 1h1m0 1h1m0 1h1m0 1h1m-1 1h1m0 1h1m0 1h1m-1 1h1m0 1h1m0 1h1m0 1h1m-1 1h1m0 1h1m0 1h1m0 1h2m0 1h1m0 1h1m0 1h2m0 1h1m0 1h3m0 -1h4m0 -1h2m0 -1h1m0 -1h2m0 -1h2m0 -1h1m0 1h1m0 1h1m0 1h1m0 1h1m0 1h1m0 1h1m0 1h1m0 1h1m0 1h1m0 1h1m0 1h1m-1 1h1m0 1h1m0 1h1m-1 1h1m0 1h1m0 1h1m-1 1h1m0 1h1m0 1h1m-1 1h1m0 1h1m0 1h1m-1 1h1m0 1h1m-1 1h1m0 1h1m-1 1h1m0 1h1m-1 1h1m0 1h1m-1 1h1m0 1h1m-1 1h1m-1 1h1m0 1h1m-1 1h1m0 1h1m-1 1h1m0 1h1m-1 1h1m0 1h1m-1 1h1m0 1h1m0 1h1m-1 1h1m0 1h1m0 1h1m-1 1h1m0 1h1m0 1h1m-1 1h1m0 1h1m0 1h2m0 1h1m0 1h2m0 1h1m0 1h1m0 1h2m0 1h1m0 1h2m0 1h1m0 1h2m0 1h1m0 1h2m0 1h1m0 1h2m0 1h1m0 1h2m0 1h1m0 1h2m0 1h4m0 1h5m0 1h2m0 1h3m0 1h2m0 1h3m0 1h2m0 1h3m0 1h3m0 1h2m0 1h3m0 1h2m0 1h2m0 1h3m0 1h2m0 1h2m0 1h1m0 1h1m0 1h1m0 1h1m0 1h1m-1 1h1m0 1h1m0 1h1m0 1h1m0 1h1m0 1h1m0 1h1m0 1h1m0 1h1m-1 1h1m0 1h1m0 1h1m0 1h1m0 1h1m0 1h1m-1 1h1m0 1h1m0 1h1m0 1h1m-1 1h1m0 1h1m-1 1h1m0 1h1m0 1h1m-1 1h1m0 1h1m0 1h1m-1 1h1m0 1h1m-1 1h1m0 1h1m0 1h1m0 1h1m0 1h1m0 1h1m-1 1h1m0 1h1m0 1h1m0 1h4m0 1h5m0 -1h4m0 -1h4m0 -1h4m0 -1h1m0 -1h1m0 -1h1m0 -1h2m0 -1h1m0 -1h1m0 -1h2m0 1h2m0 1h2m0 1h17m0 -1h2m0 -1h3m0 -1h3m0 -1h2m0 -1h2m0 -2h1m-1 1h1m0 -2h1m0 -2h1m-1 1h1m0 -2h1m0 -2h1m-1 1h1m0 -2h1m0 -2h1m-1 1h1m0 -2h1m0 -2h1m-1 1h1m0 -2h1m0 -1h1m0 -2h1m-1 1h1m0 -2h1m0 -1h1m0 -2h1m-1 1h1m0 -2h1m0 -1h1m0 -2h1m-1 1h1m0 -2h1m0 -1h1m0 -1h1m0 -1h1m0 -2h1m-1 1h1m0 -2h1m0 -1h1m0 -1h1m0 -1h1m0 -1h1m0 -2h1m-1 1h1m0 -2h1m0 -1h1m0 -1h1m0 -1h1m0 -2h1m-1 1h1m0 -2h1m0 -1h1m0 -2h1m-1 1h1m0 -2h1m0 -1h1m0 -1h1m0 -2h1m-1 1h1m0 -2h1m0 -1h1m0 -1h1m0 -2h1m-1 1h1m0 -2h1m0 -1h1m0 -2h1m-1 1h1m0 -2h1m0 -1h1m0 -1h1m0 -1h1m0 -1h2m0 -1h1m0 -1h1m0 -1h2m0 -1h4m0 -1h4m0 1h6m0 -1h5m0 -1h7m0 -1h6m0 -1h2m0 -1h1m0 -1h1m0 -1h2m0 -1h1m0 -1h2m0 -1h2m0 -1h4m0 -1h3m0 1h3m0 1h4m0 1h3m0 1h2m0 1h3m0 1h2m0 1h5m0 -1h5m0 -1h2m0 -1h2m0 -1h1m0 -1h2m0 -1h1m0 -1h2m0 -1h2m0 -1h2m0 -1h2m0 -1h2m0 -1h2m0 -1h1m0 -1h1m0 -1h1m0 -1h1m0 -1h1m0 -1h1m0 -1h1m0 -1h2m0 -1h4m0 -1h8m0 -1h8m0 1h2m0 1h2m0 1h10m0 -1h2m0 -1h2m0 -1h2m0 -1h1m0 -1h1m0 -1h1m0 -1h1m0 -1h1m0 -1h1m0 -1h1m0 -1h1m0 -1h2m0 -1h3m0 -1h2m0 -1h3m0 -1h4m0 1h4m0 1h4m0 -1h4m0 -1h2m0 -1h2m0 -1h2m0 -1h2m0 -1h2m0 -1h2m0 -1h2m0 -1h9m0 1h3m0 1h3m0 1h3m0 1h2m0 1h1m0 1h2m0 1h1m0 1h1m0 1h2m0 1h1m0 1h1m-1 1h1m0 1h1m0 1h1m-1 1h1m0 1h1m0 1h1m-1 1h1m0 1h1m0 1h1m-1 1h1m0 1h4m0 -1h4m0 -1h1m0 -1h2m0 -1h1m0 -1h1m0 -1h1m0 -1h2m0 -1h1m0 -1h1m0 -1h1m0 -1h1m0 -1h1m0 -1h1m0 -1h1m0 -1h1m0 -1h1m0 -1h1m0 -1h1m0 -1h3m0 -1h5m0 -1h5m0 1h5m0 1h3m0 1h2m0 1h2m0 1h1m0 1h2m0 1h2m0 1h1m0 1h1m0 1h1m-1 1h1m0 1h1m0 1h1m0 1h1m-1 1h1m0 1h3m0 -1h5m0 -1h3m0 -1h4m0 -1h6m0 1h6m0 1h2m0 1h2m0 1h2m0 1h3m0 1h3m0 1h3m0 1h2m0 1h1m0 1h1m0 1h1m-1 1h1m0 1h1m0 1h1m0 1h1m0 1h1m-1 1h1m0 1h1m0 1h1m0 1h1m-1 1h1m0 1h1m0 1h1m-1 1h1m0 1h1m0 1h2m0 1h2m0 1h2m0 1h7m0 1h7m0 1h1m0 1h1m0 1h1m0 1h1m-1 1h1m0 1h1m0 1h1m0 1h1m0 1h1m0 1h1m-1 1h1m0 1h1m0 1h1m-1 1h1m0 1h1m-1 1h1m0 1h1m0 1h1m-1 1h1m0 1h1m0 1h1m0 1h1m0 1h1m0 1h2m0 1h1m0 1h1m0 1h2m0 1h2m0 1h3m0 1h2m0 1h1m-1 1h1m0 1h1m0 1h1m0 1h1m-1 1h1m0 1h1m0 1h1m-1 1h1m0 1h1m0 1h1m-1 1h1m0 1h1m0 1h1m0 1h1m-1 1h1m0 1h2m0 1h3m0 1h3m0 1h3m0 1h3m0 1h4m0 -1h5m0 -1h5m0 -1h3m0 -1h2m0 -1h2m0 -1h2m0 -1h2m0 -1h4m0 -1h4m0 -1h5m0 -1h4m0 -1h3m0 -1h2m0 -1h2m0 -1h2m0 -1h1m0 -1h1m0 -1h1m0 -1h1m0 -1h1m0 -1h1m0 -1h1m0 -1h1m0 -1h1m0 -1h1m0 -1h1m0 -1h1m0 -2h1m-1 1h1m0 -2h1m0 -1h1m0 -1h1m0 -1h1m0 -2h1m-1 1h1m0 -2h1m0 -1h1m0 -1h2m0 -1h2m0 -1h2m0 1h1m0 1h1m0 1h1m0 1h2m0 1h1m0 1h1m0 1h1m0 1h1m0 1h1m0 1h2m0 1h1m0 1h1m0 1h5m0 -1h5m0 -1h2m0 -1h1m0 -1h1m0 -1h2m0 -1h1m0 -1h2m0 -1h1m0 -1h1m0 -1h1m0 -1h1m0 -1h1m0 -1h1m0 -1h1m0 -1h2m0 -1h1m0 -1h1m0 -1h1m0 -1h1m0 -1h1m0 -1h1m0 -1h1m0 -1h1m0 -1h1m0 -1h1m0 -2h1m-1 1h1m0 -2h1m0 -1h1m0 -1h1m0 -1h1m0 -1h1m0 -1h1m0 -2h1m-1 1h1m0 -2h1m0 -1h1m0 -1h1m0 -1h1m0 -1h1m0 -1h1m0 -1h2m0 -1h1m0 -1h1m0 -1h1m0 -1h1m0 -1h2m0 -1h1m0 -1h1m0 -1h1m0 -1h2m0 -1h2m0 -1h2m0 -1h1m0 -1h1m0 -1h1m0 -1h1m0 -1h1m0 -1h1m0 -1h1m0 -1h1m0 -1h1m0 -1h1m0 -1h2m0 -1h2m0 -1h2m0 -1h2m0 -1h2m0 -1h2m0 -1h3m0 -1h3m0 -1h4m0 1h4m0 1h1m0 1h2m0 1h1m0 1h1m0 1h2m0 1h1m0 1h1m0 1h1m0 1h1m0 1h1m0 1h2m0 1h1m0 1h1m0 1h1m0 1h1m0 1h2m0 1h2m0 1h1m0 1h2m0 1h2m0 1h1m0 1h1m0 1h1m0 1h1m0 1h2m0 1h1m0 1h1m0 1h1m0 1h2m0 1h2m0 1h2m0 1h5m0 1h7m0 -1h4m0 -1h1m0 -1h2m0 -1h1m0 -1h1m0 -1h2m0 -1h1m0 -2h1m-1 1h1m0 -2h1m0 -2h1m-1 1h1m0 -3h1m-1 1h1m0 -2h1m0 -2h1m-1 1h1m0 -2h1m0 -2h1m-1 1h1m0 -2h1m0 -2h1m-1 1h1m0 -2h1m0 -1h1m0 -1h1m0 -1h1m0 -2h1m-1 1h1m0 -2h1m0 -1h1m0 -1h1" fill="none" stroke="#f2f2f2"/>
<path d="M94 569.5h2m0 -1h2m0 -1h2m0 -1h2m0 -1h2m0 -1h2m0 -1h2m0 -1h2m0 -1h2m0 -1h2m0 -1h2m0 -1h2m0 -1h2m0 -1h2m0 -1h2m0 -1h2m0 -1h2m0 -1h2m0 -1h2m0 -1h2m0 -1h2m0 -1h2m0 -1h2m0 -1h2m0 -1h2m0 -1h2m0 -1h2m0 -1h5m0 -1h7m0 -1h5m0 -1h4m0 -1h4m0 -1h4m0 -1h4m0 -1h4m0 -1h2m0 -1h2m0 -1h2m0 -1h9m0 1h9m0 1h2m0 1h2m0 1h2m0 1h2m0 1h2m0 1h2m0 1h1m0 1h2m0 1h1m0 1h1m0 1h1m0 1h2m0 1h1m0 1h2m0 1h2m0 1h2m0 1h2m0 1h2m0 1h2m0 1h3m0 1h2m0 1h2m0 1h3m0 1h2m0 1h2m0 1h2m0 1h2m0 1h2m0 1h2m0 1h1m0 1h1m0 1h1m0 1h1m0 1h1m0 1h1m0 1h1m0 1h1m-1 1h1m0 1h1m0 1h1m0 1h1m0 1h1m0 1h1m0 1h1m0 1h1m0 1h1m0 1h1m0 1h1m0 1h1m0 1h1m0 1h1m0 1h1m-1 1h1m0 1h1m0 1h1m0 1h1m0 1h1m0 1h1m0 1h1m0 1h1m0 1h1m0 1h1m0 1h1m0 1h1m0 1h1m0 1h1m0 1h1m0 1h1m0 1h1m0 1h1m0 1h1m0 1h1m0 1h1m0 1h1m0 1h1m0 1h2m0 1h1m0 1h1m0 1h2m0 1h1m0 1h1m0 1h2m0 1h1m0 1h2m0 1h1m0 1h2m0 1h1m0 1h2m0 1h1m0 1h2m0 1h1m0 1h2m0 1h2m0 1h2m0 1h2m0 1h2m0 1h2m0 1h2m0 1h2m0 1h2m0 1h2m0 1h2m0 1h2m0 1h2m0 1h2m0 1h1m0 1h1m0 1h2m0 1h1m0 1h1m0 1h1m0 1h2m0 1h1m0 1h1m0 1h2m0 1h1m0 1h1m0 1h1m0 1h1m0 1h1m0 1h1m0 1h1m0 1h1m0 1h1m0 1h1m0 1h1m0 1h1m0 1h1m0 1h1m0 1h1m0 1h1m0 1h1m0 1h1m0 1h1m0 1h1m0 1h1m0 1h1m0 1h1m0 1h1m0 1h1m0 1h2m0 1h2m0 1h2m0 1h2m0 1h2m0 1h4m0 1h6m0 1h6m0 1h5m0 1h6m0 1h6m0 1h5m0 -1h6m0 -1h4m0 -1h2m0 -1h2m0 -1h3m0 -1h2m0 -1h2m0 -1h1m0 -1h2m0 -1h1m0 -1h1m0 -1h2m0 -1h1m0 -1h1m0 -1h2m0 -1h1m0 -1h1m0 -1h1m0 -1h2m0 -1h1m0 -1h1m0 -1h1m0 -1h1m0 -1h1m0 -1h1m0 -1h2m0 -1h1m0 -1h1m0 -1h1m0 -1h1m0 -1h1m0 -1h1m0 -1h1m0 -1h1m0 -1h1m0 -1h1m0 -1h1m0 -1h1m0 -1h1m0 -1h1m0 -1h1m0 -1h1m0 -1h1m0 -1h1m0 -1h1m0 -1h2m0 -1h1m0 -1h1m0 -1h2m0 -1h1m0 -1h1m0 -1h2m0 -1h1m0 -1h1m0 -1h2m0 -1h1m0 -1h2m0 -1h1m0 -1h2m0 -1h1m0 -1h2m0 -1h2m0 -1h2m0 -1h2m0 -1h2m0 -1h2m0 -1h2m0 -1h2m0 -1h3m0 -1h2m0 -1h3m0 -1h3m0 -1h2m0 -1h3m0 -1h3m0 -1h4m0 -1h13m0 -1h4m0 -1h4m0 -1h5m0 -1h4m0 -1h4m0 -1h4m0 -1h2m0 -1h2m0 -1h2m0 -1h2m0 -1h2m0 -1h3m0 -1h3m0 -1h3m0 -1h3m0 -1h3m0 -1h4m0 -1h6m0 -1h6m0 -1h5m0 -1h5m0 -1h4m0 -1h2m0 -1h2m0 -1h3m0 -1h2m0 -1h2m0 -1h4m0 -1h4m0 -1h5m0 -1h4m0 -1h4m0 -1h3m0 -1h3m0 -1h4m0 -1h3m0 -1h4m0 -1h8m0 -1h8m0 1h3m0 1h3m0 1h3m0 1h4m0 1h4m0 1h4m0 1h5m0 -1h5m0 -1h5m0 -1h5m0 -1h6m0 -1h5m0 -1h6m0 -1h5m0 1h4m0 1h5m0 1h4m0 1h12m0 1h13m0 1h5m0 1h5m0 1h4m0 1h3m0 1h4m0 1h2m0 1h2m0 1h2m0 1h2m0 1h2m0 1h2m0 1h2m0 1h2m0 1h1m0 1h2m0 1h2m0 1h2m0 1h2m0 1h2m0 1h2m0 1h2m0 1h2m0 1h2m0 1h2m0 1h1m0 1h2m0 1h1m0 1h1m0 1h1m0 1h2m0 1h1m0 1h1m0 1h1m0 1h2m0 1h1m0 1h1m0 1h1m0 1h2m0 1h1m0 1h1m0 1h1m0 1h2m0 1h1m0 1h1m0 1h1m0 1h2m0 1h1m0 1h1m0 1h1m0 1h1m0 1h1m0 1h1m0 1h1m0 1h1m0 1h1m0 1h1m0 1h1m0 1h1m0 1h2m0 1h2m0 1h1m0 1h2m0 1h1m0 1h2m0 1h2m0 1h2m0 1h2m0 1h2m0 1h3m0 1h2m0 1h5m0 1h8m0 1h10m0 -1h12m0 -1h7m0 -1h2m0 -1h2m0 -1h2m0 -1h2m0 -1h2m0 -1h2m0 -1h2m0 -1h2m0 -1h2m0 -1h3m0 -1h2m0 -1h7m0 -1h11m0 -1h8m0 -1h6m0 -1h2m0 -1h2m0 -1h2m0 -1h3m0 -1h2m0 -1h2m0 -1h2m0 -1h2m0 -1h2m0 -1h1m0 -1h2m0 -1h1m0 -1h2m0 -1h1m0 -1h2m0 -1h1m0 -1h2m0 -1h1m0 -1h1m0 -1h1m0 -1h2m0 -1h1m0 -1h1m0 -1h1m0 -1h1m0 -1h1m0 -1h1m0 -1h2m0 -1h1m0 -1h1m0 -1h1m0 -1h1m0 -1h2m0 -1h1m0 -1h1m0 -1h1m0 -1h2m0 -1h1m0 -1h1m0 -1h1m0 -1h2m0 -1h1m0 -1h1m0 -1h2m0 -1h1m0 -1h2m0 -1h1m0 -1h2m0 -1h1m0 -1h2m0 -1h1m0 -1h2m0 -1h2m0 -1h2m0 -1h2m0 -1h2m0 -1h4m0 -1h9m0 1h8m0 1h3m0 1h4m0 1h3m0 1h3m0 1h3m0 1h4m0 1h3m0 1h2m0 1h3m0 1h7m0 1h8m0 -1h3m0 -1h4m0 -1h3m0 -1h2m0 -1h2m0 -1h2m0 -1h2m0 -1h2" fill="none" stroke="#e0e01e"/>
<path d="M189 69.5h7 M192.5 67v4" stroke="#ffffff" fill="none"/>
<path d="M826 167.5h7 M829.5 165v4" stroke="#ffffff" fill="none"/>
<path d="M442 453.5h7 M445.5 451v4" stroke="#ffffff" fill="none"/>
<path d="M1029 469.5h7 M1032.5 467v4" stroke="#ffffff" fill="none"/>
<path d="M1203 156.5h7 M1206.5 154v4" stroke="#ffffff" fill="none"/>
<circle cx="188.5" cy="11.5" r="4.1" fill="none" stroke="#ff7a00" shape-rendering="auto"/>
<path d="M184 11.5h9 M188.5 7v9" stroke="#ff7a00" fill="none"/>
<rect x="201" y="2" width="12" height="13" fill="#9a9a9a"/>
<rect x="200" y="1" width="12" height="13" fill="#00008b"/>
<rect x="201" y="2" width="10" height="11" fill="#ffffff"/>
<polyline points="201,8.5 204.5,4.5 207.5,7.5 209.5,5.5 211,5.5" fill="none" stroke="#ff0000" shape-rendering="auto"/>
<polyline points="201,11.5 204.5,7.5 207.5,10.5 209.5,8.5 211,8.5" fill="none" stroke="#0000ff" shape-rendering="auto"/>
<rect x="551" y="2" width="12" height="13" fill="#9a9a9a"/>
<rect x="550" y="1" width="12" height="13" fill="#00008b"/>
<rect x="551" y="2" width="10" height="11" fill="#ffffff"/>
<polyline points="551,8.5 554.5,4.5 557.5,7.5 559.5,5.5 561,5.5" fill="none" stroke="#ff0000" shape-rendering="auto"/>
<polyline points="551,11.5 554.5,7.5 557.5,10.5 559.5,8.5 561,8.5" fill="none" stroke="#0000ff" shape-rendering="auto"/>
<rect x="1183" y="0" width="64" height="16" fill="#000000"/>
<rect x="1184.5" y="1.5" width="13" height="13" fill="#000" stroke="#b4b4b4"/>
<rect x="1200.5" y="1.5" width="13" height="13" fill="#000" stroke="#b4b4b4"/>
<rect x="1216.5" y="1.5" width="13" height="13" fill="#000" stroke="#b4b4b4"/>
<rect x="1232.5" y="1.5" width="13" height="13" fill="#000" stroke="#b4b4b4"/>
<rect x="1190" y="3" width="2" height="3" fill="#a8a8a8"/>
<rect x="1190" y="10" width="2" height="3" fill="#a8a8a8"/>
<rect x="1190" y="7" width="2" height="2" fill="#a8a8a8"/>
<rect x="1186" y="7" width="3" height="2" fill="#a8a8a8"/>
<rect x="1193" y="7" width="3" height="2" fill="#a8a8a8"/>
<path d="M1203.5 3v10 M1202 11.5h10" stroke="#b4b4b4" fill="none"/>
<path d="M1202 5l1.5-2.5l1.5 2.5z M1210 10l2.5 1.5l-2.5 1.5z" fill="#b4b4b4" shape-rendering="auto"/>
<path d="M1206.5 4v6" stroke="#b4b4b4" fill="none"/>
<path d="M1207.5 6.7l2.8-2.5v5z" fill="#9a9a9a" shape-rendering="auto"/>
<path d="M1219.5 3v10 M1218 11.5h10" stroke="#b4b4b4" fill="none"/>
<path d="M1218 5l1.5-2.5l1.5 2.5z M1226 10l2.5 1.5l-2.5 1.5z" fill="#b4b4b4" shape-rendering="auto"/>
<path d="M1222 4.3l5 3.2l-5 3.2z" fill="#9a9a9a" shape-rendering="auto"/>
<rect x="1234.5" y="3.5" width="3" height="9" fill="none" stroke="#b4b4b4"/>
<path d="M1237 7.5h5" stroke="#b4b4b4" stroke-width="1" fill="none"/>
<path d="M1240 5l3.5 2.5l-3.5 2.5z" fill="#b4b4b4" shape-rendering="auto"/>
<rect x="26" y="504" width="6" height="8" fill="#000"/>
<rect x="25" y="505" width="8" height="6" fill="#000"/>
<rect x="27" y="505" width="4" height="6" fill="#fff"/>
<rect x="26" y="506" width="6" height="4" fill="#fff"/>
<rect x="28" y="506" width="2" height="4" fill="#f00"/>
<rect x="27" y="507" width="4" height="2" fill="#f00"/>
<rect x="28" y="501" width="1" height="2" fill="#f00"/>
<rect x="28" y="513" width="1" height="2" fill="#f00"/>
<rect x="22" y="507" width="2" height="1" fill="#f00"/>
<rect x="34" y="507" width="2" height="1" fill="#f00"/>
<rect x="23" y="502" width="1" height="1" fill="#f00"/>
<rect x="24" y="503" width="1" height="1" fill="#f00"/>
<rect x="34" y="502" width="1" height="1" fill="#f00"/>
<rect x="33" y="503" width="1" height="1" fill="#f00"/>
<rect x="24" y="512" width="1" height="1" fill="#f00"/>
<rect x="23" y="513" width="1" height="1" fill="#f00"/>
<rect x="33" y="512" width="1" height="1" fill="#f00"/>
<rect x="34" y="513" width="1" height="1" fill="#f00"/></svg>
<div class="side"></div>
<div class="tab" style="top:0px;height:43.3px;padding-top:6.7px;line-height:14.0px;">分<br>时<br>图</div>
<div class="tab" style="top:51px;height:41.9px;padding-top:4.1px;line-height:14.0px;background:#ff6a00;color:#fff;">K<br>线<br>图</div>
<div class="tab" style="top:98px;height:44.1px;padding-top:6.9px;line-height:14.0px;">闪<br>电<br>图</div>
<div class="tab" style="top:150px;height:57.0px;padding-top:7.0px;line-height:14.35px;">合<br>约<br>资<br>料</div>
<div class="t" style="left:92.5px;top:3px;color:#e6e6e6;">美元指数</div>
<div class="t" style="left:139.5px;top:3px;color:#ff7a1a;">【5分】</div>
<div class="t" style="left:215.3px;top:3px;color:#e6e6e6;font-size:12px;letter-spacing:-0.085px;">BOLL(20,2)</div>
<div class="t" style="left:281.5px;top:3px;color:#e6e6e6;font-size:12px;letter-spacing:0.298px;">MID:96.8928</div>
<div class="t" style="left:362.5px;top:3px;color:#c8c81e;font-size:12px;letter-spacing:-0.182px;">UPPER:96.9402</div>
<div class="t" style="left:456.0px;top:3px;color:#d21ed2;font-size:12px;letter-spacing:-0.017px;">LOWER:96.8455</div>
<div class="t" style="left:565.0px;top:3px;color:#e6e6e6;font-size:12px;letter-spacing:0.132px;">MA(0,0,0,60,0,0)</div>
<div class="t" style="left:661.5px;top:3px;color:#e6e6e6;font-size:12px;letter-spacing:0.301px;">MA0:96.9359</div>
<div class="t" style="left:744.2px;top:3px;color:#c8c81e;font-size:12px;letter-spacing:0.301px;">MA0:96.9359</div>
<div class="t" style="left:827.5px;top:3px;color:#d21ed2;font-size:12px;letter-spacing:0.264px;">MA0:96.9359</div>
<div class="t" style="left:910.0px;top:3px;color:#1fd21f;font-size:12px;letter-spacing:0.328px;">MA60:96.8682</div>
<div class="t" style="left:1000.2px;top:3px;color:#8c8c8c;font-size:12px;letter-spacing:0.319px;">MA0:96.9359</div>
<div class="t" style="left:1083.2px;top:3px;color:#f03232;font-size:12px;letter-spacing:0.871px;">MA0</div>
<div class="t" style="left:92.0px;top:504px;color:#e6e6e6;font-size:12px;letter-spacing:0.240px;">MACD(26,12,9)</div>
<div class="t" style="left:181.5px;top:504px;color:#e6e6e6;font-size:12px;letter-spacing:0.027px;">DIFF:0.0144</div>
<div class="t" style="left:256.1px;top:504px;color:#c8c81e;font-size:12px;letter-spacing:0.038px;">DEA:0.0089</div>
<div class="t" style="left:329.3px;top:504px;color:#d21ed2;font-size:12px;letter-spacing:0.338px;">MACD:0.0110</div>
<div class="ax l" style="top:14px">97.0414</div>
<div class="ax r" style="top:14px">97.0414</div>
<div class="ax l" style="top:73px">97.0059</div>
<div class="ax r" style="top:73px">97.0059</div>
<div class="ax l" style="top:133px">96.9705</div>
<div class="ax r" style="top:133px">96.9705</div>
<div class="ax l" style="top:193px">96.9350</div>
<div class="ax r" style="top:193px">96.9350</div>
<div class="ax l" style="top:253px">96.8995</div>
<div class="ax r" style="top:253px">96.8995</div>
<div class="ax l" style="top:313px">96.8640</div>
<div class="ax r" style="top:313px">96.8640</div>
<div class="ax l" style="top:373px">96.8285</div>
<div class="ax r" style="top:373px">96.8285</div>
<div class="ax l" style="top:433px">96.7930</div>
<div class="ax r" style="top:433px">96.7930</div>
<div class="ax l" style="top:515px">0.0272</div>
<div class="ax r" style="top:515px">0.0272</div>
<div class="ax l" style="top:539px">0.0185</div>
<div class="ax r" style="top:539px">0.0185</div>
<div class="ax l" style="top:564px">0.0098</div>
<div class="ax r" style="top:564px">0.0098</div>
<div class="ax l" style="top:589px">0.0011</div>
<div class="ax r" style="top:589px">0.0011</div>
<div class="ax l" style="top:614px">-0.0076</div>
<div class="ax r" style="top:614px">-0.0076</div>
<div class="ax l" style="top:639px">-0.0162</div>
<div class="ax r" style="top:639px">-0.0162</div>
<div class="ax l" style="top:664px">-0.0249</div>
<div class="ax r" style="top:664px">-0.0249</div>
<div style="position:absolute;left:1247px;top:200px;width:67px;height:16px;background:#000;border:1px solid #f9a132;border-right:none;"></div>
<div style="position:absolute;left:1307px;top:192px;width:8px;height:8px;background:#000;"></div>
<svg width="1317" height="732" viewBox="0 0 1317 732"><path d="M1311 191.6l4.4 4.4h-8.8z M1311 195.8l4.4 4.4h-8.8z" fill="#f9a132"/></svg>
<div class="ax" style="left:1250px;top:202px;color:#f9a132;">96.9359</div>
<div style="position:absolute;left:1248px;top:398px;width:69px;height:16px;background:#000;"></div>
<div class="ax" style="left:1250px;top:399px;color:#f9a132;">96.8186</div>
<div class="t" style="left:196.9px;top:55px;color:#ec4f63;font-size:12px;letter-spacing:0.273px;font-weight:bold;">97.0130</div>
<div class="t" style="left:834.4px;top:153px;color:#ec4f63;font-size:12px;letter-spacing:0.101px;font-weight:bold;">96.9551</div>
<div class="t" style="left:1157.3px;top:142px;color:#ec4f63;font-size:12px;letter-spacing:0.258px;font-weight:bold;">96.9619</div>
<div class="t" style="left:448.9px;top:454px;color:#53b98a;font-size:12px;letter-spacing:0.273px;font-weight:bold;">96.7854</div>
<div class="t" style="left:1036.5px;top:470px;color:#53b98a;font-size:12px;letter-spacing:0.258px;font-weight:bold;">96.7761</div>
<div class="t" style="left:37.5px;top:700px;color:#ff7a1a;font-weight:bold;font-size:12px;">5分</div>
<div style="position:absolute;left:61px;top:703px;width:0;height:0;border-left:5px solid transparent;border-right:5px solid transparent;border-bottom:8px solid #ff7a1a;"></div>
<div style="position:absolute;left:1001px;top:697px;width:163px;height:16px;background:#000;"></div>
<div class="t" style="left:1003px;top:698px;color:#f5a545;font-size:13px;line-height:14px;">2026/02/10 20:20<span style="display:inline-block;width:10px;font-size:10px;text-align:center;vertical-align:top;">～</span>20:25 二</div>
<div class="t" style="left:1187px;top:678px;font-size:32px;line-height:36px;height:36px;color:#dfe5ee;letter-spacing:1.75px;">FX678</div>
<div style="position:absolute;left:20px;top:717px;width:598px;height:14px;background:#2a2a2a;"></div>
<div class="bt cj" style="left:20px;width:39px;background:#ff6a00;top:716px;height:15px;line-height:16px;">指标</div>
<div class="bt cj" style="left:60px;width:39px;">模板</div>
<div class="bt cj" style="left:100px;width:57px;color:#ff7a1a;">VIP指标</div>
<div class="bt " style="left:158px;width:27px;">MA</div>
<div class="bt " style="left:186px;width:39px;">MACD</div>
<div class="bt " style="left:226px;width:39px;">BIAS</div>
<div class="bt " style="left:266px;width:34px;">CCI</div>
<div class="bt " style="left:301px;width:32px;">KDJ</div>
<div class="bt " style="left:334px;width:39px;">LW&amp;</div>
<div class="bt " style="left:374px;width:34px;">RSI</div>
<div class="bt " style="left:409px;width:27px;">CR</div>
<div class="bt " style="left:437px;width:33px;">PSY</div>
<div class="bt " style="left:471px;width:39px;">BOLL</div>
<div class="bt " style="left:511px;width:33px;">VOL</div>
<div class="bt " style="left:545px;width:33px;">OBV</div>
<div class="bt cj" style="left:579px;width:38px;">设置</div>
</body></html>
